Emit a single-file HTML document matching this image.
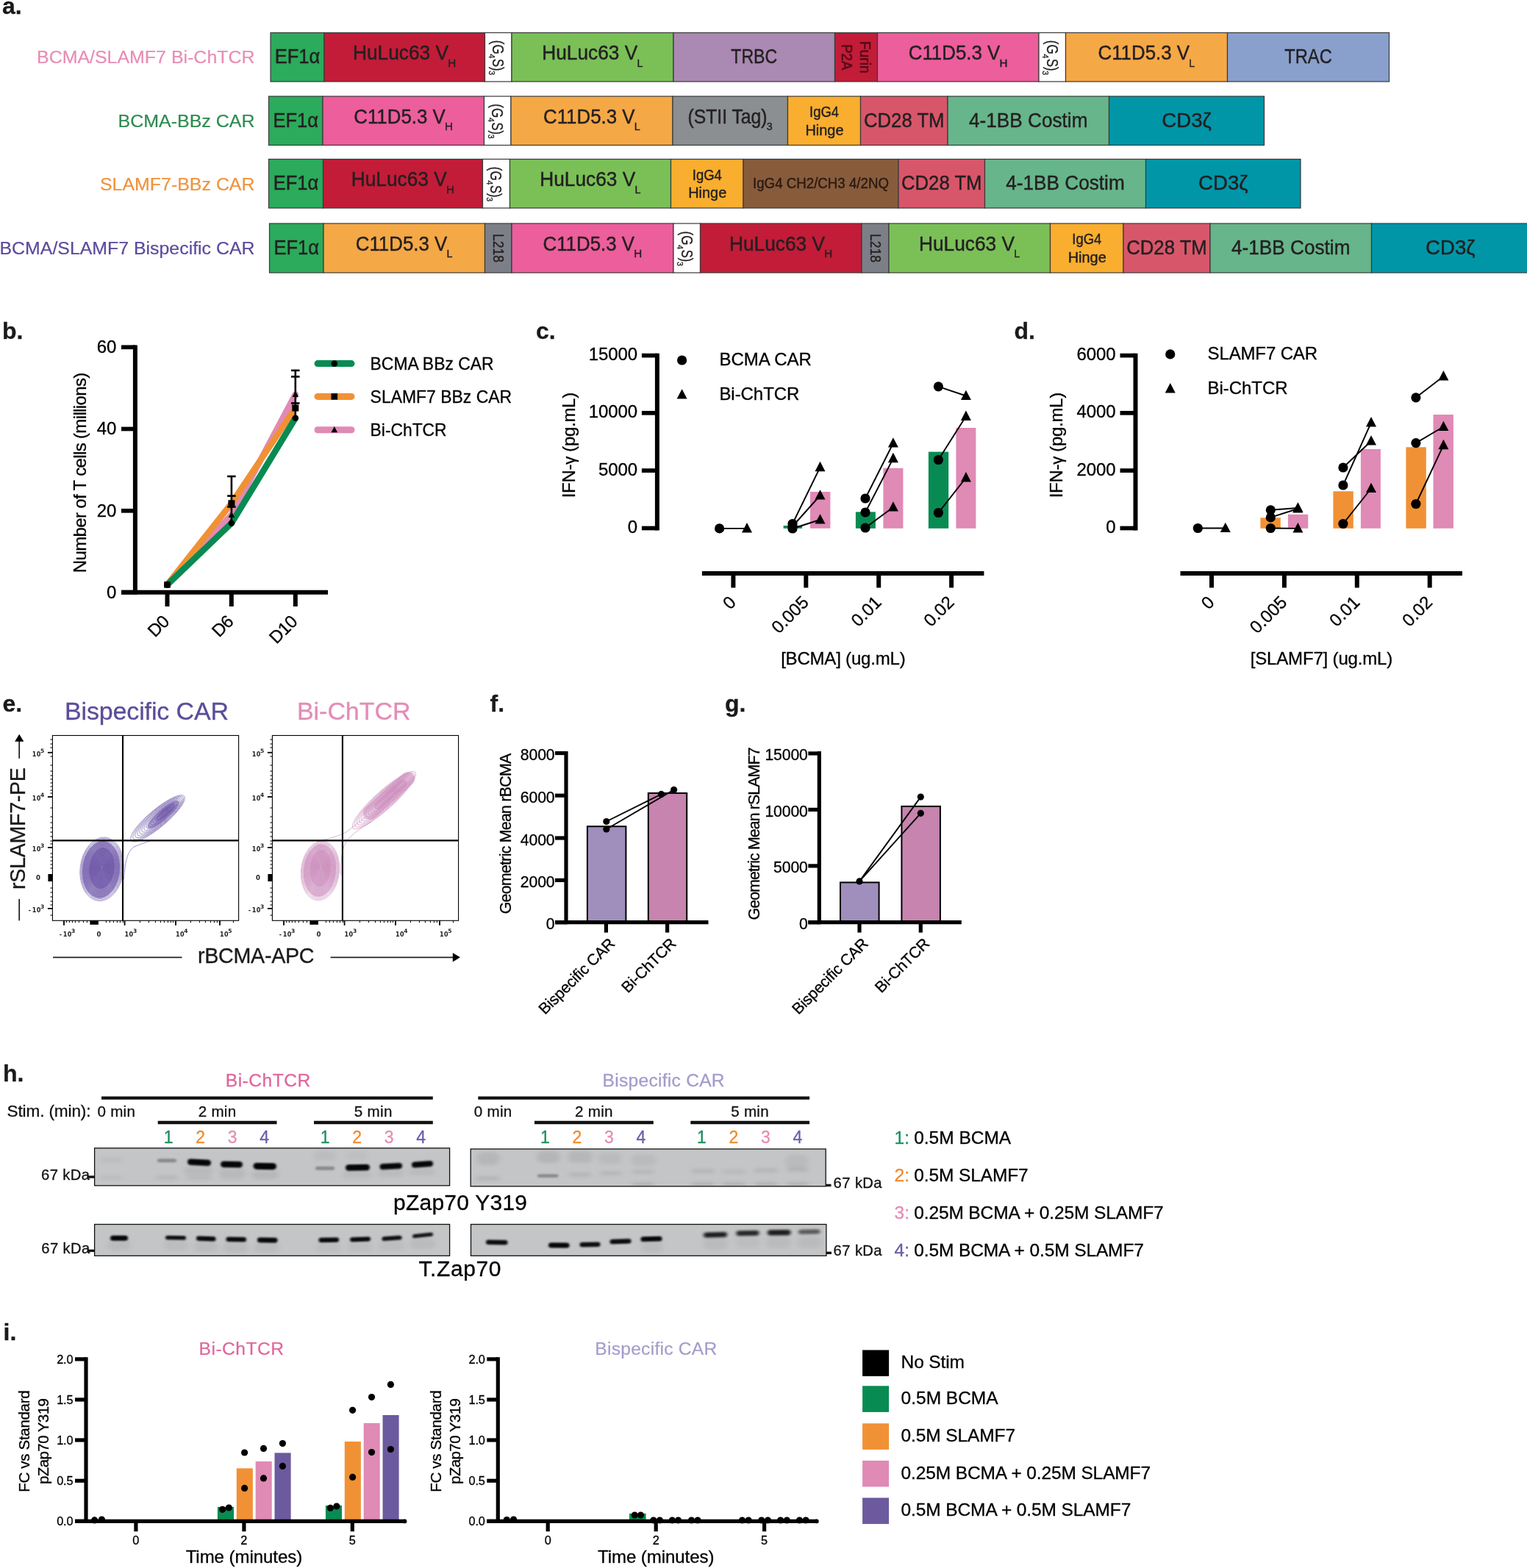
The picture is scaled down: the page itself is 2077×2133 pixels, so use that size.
<!DOCTYPE html>
<html lang="en"><head><meta charset="utf-8"><title>Figure</title>
<style>
html,body{margin:0;padding:0;background:#fff;}
body{width:2077px;height:2133px;overflow:hidden;}
svg{display:block;font-family:"Liberation Sans",Arial,Helvetica,sans-serif;}
.m{font-family:"DejaVu Sans","Liberation Sans",sans-serif;font-weight:bold;letter-spacing:0.4px;}
</style></head><body>
<svg width="2077" height="2133" viewBox="0 0 2077 2133">
<defs>
<filter id="b1" x="-20%" y="-100%" width="140%" height="300%"><feGaussianBlur stdDeviation="1.6 1.2"/></filter>
<filter id="b2" x="-20%" y="-100%" width="140%" height="300%"><feGaussianBlur stdDeviation="3 2.2"/></filter>
<filter id="b4" x="-20%" y="-100%" width="140%" height="300%"><feGaussianBlur stdDeviation="2.2 1.7"/></filter>
<filter id="b3" x="-30%" y="-30%" width="160%" height="160%"><feGaussianBlur stdDeviation="1.2"/></filter>
</defs>
<g id="panel-a">
<text font-size="32" stroke="#1a1a1a" stroke-width="0.3" font-weight="bold" fill="#1a1a1a" x="3" y="19">a.</text>
<rect x="368" y="44.5" width="73" height="66.5" fill="#2BAB5B" stroke="#3a3a3a" stroke-width="1.2"/>
<rect x="441" y="44.5" width="218.5" height="66.5" fill="#C21C38" stroke="#3a3a3a" stroke-width="1.2"/>
<rect x="659.5" y="44.5" width="36.5" height="66.5" fill="#FFFFFF" stroke="#3a3a3a" stroke-width="1.2"/>
<rect x="696" y="44.5" width="220" height="66.5" fill="#7AC057" stroke="#3a3a3a" stroke-width="1.2"/>
<rect x="916" y="44.5" width="219.5" height="66.5" fill="#AA89B2" stroke="#3a3a3a" stroke-width="1.2"/>
<rect x="1135.5" y="44.5" width="58" height="66.5" fill="#C21C38" stroke="#3a3a3a" stroke-width="1.2"/>
<rect x="1193.5" y="44.5" width="219.5" height="66.5" fill="#EC5E9C" stroke="#3a3a3a" stroke-width="1.2"/>
<rect x="1413" y="44.5" width="36.5" height="66.5" fill="#FFFFFF" stroke="#3a3a3a" stroke-width="1.2"/>
<rect x="1449.5" y="44.5" width="220" height="66.5" fill="#F5A846" stroke="#3a3a3a" stroke-width="1.2"/>
<rect x="1669.5" y="44.5" width="220" height="66.5" fill="#89A0CC" stroke="#3a3a3a" stroke-width="1.2"/>
<text font-size="28.3" text-anchor="middle" textLength="61.5" lengthAdjust="spacingAndGlyphs" fill="#231F20" x="404.5" y="86.3" stroke="#231F20" stroke-width="0.45">EF1α</text>
<text font-size="27.1" textLength="130" lengthAdjust="spacingAndGlyphs" fill="#231F20" x="480" y="81.4" stroke="#231F20" stroke-width="0.45">HuLuc63 V</text>
<text font-size="14" stroke="#231F20" stroke-width="0.35" textLength="11" lengthAdjust="spacingAndGlyphs" fill="#231F20" x="609.3" y="90.8">H</text>
<g transform="translate(670.05 77.75) rotate(90)" fill="#231F20" stroke="#231F20" stroke-width="0.35">
<text font-size="21.5" x="-23" y="0" textLength="19" lengthAdjust="spacingAndGlyphs">(G</text>
<text font-size="10.5" x="-4.2" y="5.2">4</text>
<text font-size="21.5" x="2.3" y="0" textLength="16.5" lengthAdjust="spacingAndGlyphs">S)</text>
<text font-size="10.5" x="18.6" y="5.2">3</text>
</g>
<text font-size="27.1" textLength="130" lengthAdjust="spacingAndGlyphs" fill="#231F20" x="737.25" y="81.4" stroke="#231F20" stroke-width="0.45">HuLuc63 V</text>
<text font-size="14" stroke="#231F20" stroke-width="0.35" textLength="8" lengthAdjust="spacingAndGlyphs" fill="#231F20" x="866.55" y="90.8">L</text>
<text font-size="28.3" text-anchor="middle" textLength="63" lengthAdjust="spacingAndGlyphs" fill="#231F20" x="1025.75" y="86.3" stroke="#231F20" stroke-width="0.45">TRBC</text>
<g transform="translate(1164.5 77.75) rotate(90)">
<text font-size="20" stroke="#560A17" stroke-width="0.6" text-anchor="middle" textLength="44" lengthAdjust="spacingAndGlyphs" fill="#560A17" x="0" y="-5.5">Furin</text>
<text font-size="20" stroke="#560A17" stroke-width="0.6" text-anchor="middle" textLength="35" lengthAdjust="spacingAndGlyphs" fill="#560A17" x="0" y="19.5">P2A</text>
</g>
<text font-size="27.1" textLength="124.5" lengthAdjust="spacingAndGlyphs" fill="#231F20" x="1235.75" y="81.4" stroke="#231F20" stroke-width="0.45">C11D5.3 V</text>
<text font-size="14" stroke="#231F20" stroke-width="0.35" textLength="11" lengthAdjust="spacingAndGlyphs" fill="#231F20" x="1359.55" y="90.8">H</text>
<g transform="translate(1423.55 77.75) rotate(90)" fill="#231F20" stroke="#231F20" stroke-width="0.35">
<text font-size="21.5" x="-23" y="0" textLength="19" lengthAdjust="spacingAndGlyphs">(G</text>
<text font-size="10.5" x="-4.2" y="5.2">4</text>
<text font-size="21.5" x="2.3" y="0" textLength="16.5" lengthAdjust="spacingAndGlyphs">S)</text>
<text font-size="10.5" x="18.6" y="5.2">3</text>
</g>
<text font-size="27.1" textLength="124.5" lengthAdjust="spacingAndGlyphs" fill="#231F20" x="1493.5" y="81.4" stroke="#231F20" stroke-width="0.45">C11D5.3 V</text>
<text font-size="14" stroke="#231F20" stroke-width="0.35" textLength="8" lengthAdjust="spacingAndGlyphs" fill="#231F20" x="1617.3" y="90.8">L</text>
<text font-size="28.3" text-anchor="middle" textLength="64.5" lengthAdjust="spacingAndGlyphs" fill="#231F20" x="1779.5" y="86.3" stroke="#231F20" stroke-width="0.45">TRAC</text>
<rect x="365.5" y="131" width="73.5" height="66.5" fill="#2BAB5B" stroke="#3a3a3a" stroke-width="1.2"/>
<rect x="439" y="131" width="219.5" height="66.5" fill="#EC5E9C" stroke="#3a3a3a" stroke-width="1.2"/>
<rect x="658.5" y="131" width="36.5" height="66.5" fill="#FFFFFF" stroke="#3a3a3a" stroke-width="1.2"/>
<rect x="695" y="131" width="220" height="66.5" fill="#F5A846" stroke="#3a3a3a" stroke-width="1.2"/>
<rect x="915" y="131" width="156.5" height="66.5" fill="#8B8F92" stroke="#3a3a3a" stroke-width="1.2"/>
<rect x="1071.5" y="131" width="99" height="66.5" fill="#F9AE2F" stroke="#3a3a3a" stroke-width="1.2"/>
<rect x="1170.5" y="131" width="118.5" height="66.5" fill="#D8566A" stroke="#3a3a3a" stroke-width="1.2"/>
<rect x="1289" y="131" width="219.5" height="66.5" fill="#67B58B" stroke="#3a3a3a" stroke-width="1.2"/>
<rect x="1508.5" y="131" width="211" height="66.5" fill="#0096A8" stroke="#3a3a3a" stroke-width="1.2"/>
<text font-size="28.3" text-anchor="middle" textLength="61.5" lengthAdjust="spacingAndGlyphs" fill="#231F20" x="402.25" y="172.8" stroke="#231F20" stroke-width="0.45">EF1α</text>
<text font-size="27.1" textLength="124.5" lengthAdjust="spacingAndGlyphs" fill="#231F20" x="481.25" y="167.9" stroke="#231F20" stroke-width="0.45">C11D5.3 V</text>
<text font-size="14" stroke="#231F20" stroke-width="0.35" textLength="11" lengthAdjust="spacingAndGlyphs" fill="#231F20" x="605.05" y="177.3">H</text>
<g transform="translate(669.05 164.25) rotate(90)" fill="#231F20" stroke="#231F20" stroke-width="0.35">
<text font-size="21.5" x="-23" y="0" textLength="19" lengthAdjust="spacingAndGlyphs">(G</text>
<text font-size="10.5" x="-4.2" y="5.2">4</text>
<text font-size="21.5" x="2.3" y="0" textLength="16.5" lengthAdjust="spacingAndGlyphs">S)</text>
<text font-size="10.5" x="18.6" y="5.2">3</text>
</g>
<text font-size="27.1" textLength="124.5" lengthAdjust="spacingAndGlyphs" fill="#231F20" x="739" y="167.9" stroke="#231F20" stroke-width="0.45">C11D5.3 V</text>
<text font-size="14" stroke="#231F20" stroke-width="0.35" textLength="8" lengthAdjust="spacingAndGlyphs" fill="#231F20" x="862.8" y="177.3">L</text>
<text font-size="27.1" textLength="108" lengthAdjust="spacingAndGlyphs" fill="#231F20" x="935.5" y="167.9" stroke="#231F20" stroke-width="0.45">(STII Tag)</text>
<text font-size="14" stroke="#231F20" stroke-width="0.35" textLength="8" lengthAdjust="spacingAndGlyphs" fill="#231F20" x="1042.8" y="177.3">3</text>
<text font-size="20.5" text-anchor="middle" textLength="40" lengthAdjust="spacingAndGlyphs" fill="#231F20" x="1121" y="159" stroke="#231F20" stroke-width="0.45">IgG4</text>
<text font-size="20.5" text-anchor="middle" textLength="52" lengthAdjust="spacingAndGlyphs" fill="#231F20" x="1121.5" y="183.5" stroke="#231F20" stroke-width="0.45">Hinge</text>
<text font-size="28.3" text-anchor="middle" textLength="109.5" lengthAdjust="spacingAndGlyphs" fill="#231F20" x="1229.75" y="172.8" stroke="#231F20" stroke-width="0.45">CD28 TM</text>
<text font-size="28.3" text-anchor="middle" textLength="161.5" lengthAdjust="spacingAndGlyphs" fill="#231F20" x="1398.75" y="172.8" stroke="#231F20" stroke-width="0.45">4-1BB Costim</text>
<text font-size="28.3" text-anchor="middle" textLength="67.5" lengthAdjust="spacingAndGlyphs" fill="#231F20" x="1614" y="172.8" stroke="#231F20" stroke-width="0.45">CD3ζ</text>
<rect x="365.5" y="216.5" width="74" height="66.5" fill="#2BAB5B" stroke="#3a3a3a" stroke-width="1.2"/>
<rect x="439.5" y="216.5" width="217" height="66.5" fill="#C21C38" stroke="#3a3a3a" stroke-width="1.2"/>
<rect x="656.5" y="216.5" width="37" height="66.5" fill="#FFFFFF" stroke="#3a3a3a" stroke-width="1.2"/>
<rect x="693.5" y="216.5" width="219" height="66.5" fill="#7AC057" stroke="#3a3a3a" stroke-width="1.2"/>
<rect x="912.5" y="216.5" width="98.5" height="66.5" fill="#F9AE2F" stroke="#3a3a3a" stroke-width="1.2"/>
<rect x="1011" y="216.5" width="211" height="66.5" fill="#875C3C" stroke="#3a3a3a" stroke-width="1.2"/>
<rect x="1222" y="216.5" width="117.5" height="66.5" fill="#D8566A" stroke="#3a3a3a" stroke-width="1.2"/>
<rect x="1339.5" y="216.5" width="219" height="66.5" fill="#67B58B" stroke="#3a3a3a" stroke-width="1.2"/>
<rect x="1558.5" y="216.5" width="210.5" height="66.5" fill="#0096A8" stroke="#3a3a3a" stroke-width="1.2"/>
<text font-size="28.3" text-anchor="middle" textLength="61.5" lengthAdjust="spacingAndGlyphs" fill="#231F20" x="402.5" y="258.3" stroke="#231F20" stroke-width="0.45">EF1α</text>
<text font-size="27.1" textLength="130" lengthAdjust="spacingAndGlyphs" fill="#231F20" x="477.75" y="253.4" stroke="#231F20" stroke-width="0.45">HuLuc63 V</text>
<text font-size="14" stroke="#231F20" stroke-width="0.35" textLength="11" lengthAdjust="spacingAndGlyphs" fill="#231F20" x="607.05" y="262.8">H</text>
<g transform="translate(667.3 249.75) rotate(90)" fill="#231F20" stroke="#231F20" stroke-width="0.35">
<text font-size="21.5" x="-23" y="0" textLength="19" lengthAdjust="spacingAndGlyphs">(G</text>
<text font-size="10.5" x="-4.2" y="5.2">4</text>
<text font-size="21.5" x="2.3" y="0" textLength="16.5" lengthAdjust="spacingAndGlyphs">S)</text>
<text font-size="10.5" x="18.6" y="5.2">3</text>
</g>
<text font-size="27.1" textLength="130" lengthAdjust="spacingAndGlyphs" fill="#231F20" x="734.25" y="253.4" stroke="#231F20" stroke-width="0.45">HuLuc63 V</text>
<text font-size="14" stroke="#231F20" stroke-width="0.35" textLength="8" lengthAdjust="spacingAndGlyphs" fill="#231F20" x="863.55" y="262.8">L</text>
<text font-size="20.5" text-anchor="middle" textLength="40" lengthAdjust="spacingAndGlyphs" fill="#231F20" x="961.75" y="244.5" stroke="#231F20" stroke-width="0.45">IgG4</text>
<text font-size="20.5" text-anchor="middle" textLength="52" lengthAdjust="spacingAndGlyphs" fill="#231F20" x="962.25" y="269" stroke="#231F20" stroke-width="0.45">Hinge</text>
<text font-size="19.5" stroke="#2b1a10" stroke-width="0.4" text-anchor="middle" textLength="185" lengthAdjust="spacingAndGlyphs" fill="#2b1a10" x="1116.5" y="256.25">IgG4 CH2/CH3 4/2NQ</text>
<text font-size="28.3" text-anchor="middle" textLength="109.5" lengthAdjust="spacingAndGlyphs" fill="#231F20" x="1280.75" y="258.3" stroke="#231F20" stroke-width="0.45">CD28 TM</text>
<text font-size="28.3" text-anchor="middle" textLength="161.5" lengthAdjust="spacingAndGlyphs" fill="#231F20" x="1449" y="258.3" stroke="#231F20" stroke-width="0.45">4-1BB Costim</text>
<text font-size="28.3" text-anchor="middle" textLength="67.5" lengthAdjust="spacingAndGlyphs" fill="#231F20" x="1663.75" y="258.3" stroke="#231F20" stroke-width="0.45">CD3ζ</text>
<rect x="366.5" y="304" width="73.5" height="67" fill="#2BAB5B" stroke="#3a3a3a" stroke-width="1.2"/>
<rect x="440" y="304" width="219.5" height="67" fill="#F5A846" stroke="#3a3a3a" stroke-width="1.2"/>
<rect x="659.5" y="304" width="36.5" height="67" fill="#7D7F88" stroke="#3a3a3a" stroke-width="1.2"/>
<rect x="696" y="304" width="220" height="67" fill="#EC5E9C" stroke="#3a3a3a" stroke-width="1.2"/>
<rect x="916" y="304" width="36.5" height="67" fill="#FFFFFF" stroke="#3a3a3a" stroke-width="1.2"/>
<rect x="952.5" y="304" width="219.5" height="67" fill="#C21C38" stroke="#3a3a3a" stroke-width="1.2"/>
<rect x="1172" y="304" width="37" height="67" fill="#7D7F88" stroke="#3a3a3a" stroke-width="1.2"/>
<rect x="1209" y="304" width="219.5" height="67" fill="#7AC057" stroke="#3a3a3a" stroke-width="1.2"/>
<rect x="1428.5" y="304" width="99.5" height="67" fill="#F9AE2F" stroke="#3a3a3a" stroke-width="1.2"/>
<rect x="1528" y="304" width="118" height="67" fill="#D8566A" stroke="#3a3a3a" stroke-width="1.2"/>
<rect x="1646" y="304" width="219.5" height="67" fill="#67B58B" stroke="#3a3a3a" stroke-width="1.2"/>
<rect x="1865.5" y="304" width="214.5" height="67" fill="#0096A8" stroke="#3a3a3a" stroke-width="1.2"/>
<text font-size="28.3" text-anchor="middle" textLength="61.5" lengthAdjust="spacingAndGlyphs" fill="#231F20" x="403.25" y="345.8" stroke="#231F20" stroke-width="0.45">EF1α</text>
<text font-size="27.1" textLength="124.5" lengthAdjust="spacingAndGlyphs" fill="#231F20" x="483.75" y="340.9" stroke="#231F20" stroke-width="0.45">C11D5.3 V</text>
<text font-size="14" stroke="#231F20" stroke-width="0.35" textLength="8" lengthAdjust="spacingAndGlyphs" fill="#231F20" x="607.55" y="350.3">L</text>
<g transform="translate(670.75 337.5) rotate(90)">
<text font-size="20" stroke="#231F20" stroke-width="0.4" text-anchor="middle" textLength="39" lengthAdjust="spacingAndGlyphs" fill="#231F20" x="0" y="0">L218</text>
</g>
<text font-size="27.1" textLength="124.5" lengthAdjust="spacingAndGlyphs" fill="#231F20" x="738.5" y="340.9" stroke="#231F20" stroke-width="0.45">C11D5.3 V</text>
<text font-size="14" stroke="#231F20" stroke-width="0.35" textLength="11" lengthAdjust="spacingAndGlyphs" fill="#231F20" x="862.3" y="350.3">H</text>
<g transform="translate(926.55 337.5) rotate(90)" fill="#231F20" stroke="#231F20" stroke-width="0.35">
<text font-size="21.5" x="-23" y="0" textLength="19" lengthAdjust="spacingAndGlyphs">(G</text>
<text font-size="10.5" x="-4.2" y="5.2">4</text>
<text font-size="21.5" x="2.3" y="0" textLength="16.5" lengthAdjust="spacingAndGlyphs">S)</text>
<text font-size="10.5" x="18.6" y="5.2">3</text>
</g>
<text font-size="27.1" textLength="130" lengthAdjust="spacingAndGlyphs" fill="#231F20" x="992" y="340.9" stroke="#231F20" stroke-width="0.45">HuLuc63 V</text>
<text font-size="14" stroke="#231F20" stroke-width="0.35" textLength="11" lengthAdjust="spacingAndGlyphs" fill="#231F20" x="1121.3" y="350.3">H</text>
<g transform="translate(1183.5 337.5) rotate(90)">
<text font-size="20" stroke="#231F20" stroke-width="0.4" text-anchor="middle" textLength="39" lengthAdjust="spacingAndGlyphs" fill="#231F20" x="0" y="0">L218</text>
</g>
<text font-size="27.1" textLength="130" lengthAdjust="spacingAndGlyphs" fill="#231F20" x="1250" y="340.9" stroke="#231F20" stroke-width="0.45">HuLuc63 V</text>
<text font-size="14" stroke="#231F20" stroke-width="0.35" textLength="8" lengthAdjust="spacingAndGlyphs" fill="#231F20" x="1379.3" y="350.3">L</text>
<text font-size="20.5" text-anchor="middle" textLength="40" lengthAdjust="spacingAndGlyphs" fill="#231F20" x="1478.25" y="332" stroke="#231F20" stroke-width="0.45">IgG4</text>
<text font-size="20.5" text-anchor="middle" textLength="52" lengthAdjust="spacingAndGlyphs" fill="#231F20" x="1478.75" y="356.5" stroke="#231F20" stroke-width="0.45">Hinge</text>
<text font-size="28.3" text-anchor="middle" textLength="109.5" lengthAdjust="spacingAndGlyphs" fill="#231F20" x="1587" y="345.8" stroke="#231F20" stroke-width="0.45">CD28 TM</text>
<text font-size="28.3" text-anchor="middle" textLength="161.5" lengthAdjust="spacingAndGlyphs" fill="#231F20" x="1755.75" y="345.8" stroke="#231F20" stroke-width="0.45">4-1BB Costim</text>
<text font-size="28.3" text-anchor="middle" textLength="67.5" lengthAdjust="spacingAndGlyphs" fill="#231F20" x="1972.75" y="345.8" stroke="#231F20" stroke-width="0.45">CD3ζ</text>
<text font-size="24.4" stroke="#E88DB5" stroke-width="0.2" text-anchor="end" textLength="296.5" lengthAdjust="spacingAndGlyphs" fill="#E88DB5" x="346.5" y="86">BCMA/SLAMF7 Bi-ChTCR</text>
<text font-size="24.4" stroke="#2E8B50" stroke-width="0.2" text-anchor="end" textLength="186" lengthAdjust="spacingAndGlyphs" fill="#2E8B50" x="346.5" y="172.5">BCMA-BBz CAR</text>
<text font-size="24.4" stroke="#F0933B" stroke-width="0.2" text-anchor="end" textLength="210.5" lengthAdjust="spacingAndGlyphs" fill="#F0933B" x="346.5" y="258.5">SLAMF7-BBz CAR</text>
<text font-size="24.4" stroke="#5B4A9C" stroke-width="0.2" text-anchor="end" textLength="347" lengthAdjust="spacingAndGlyphs" fill="#5B4A9C" x="346.5" y="345.5">BCMA/SLAMF7 Bispecific CAR</text>
</g>
<g id="panel-b" class="p">
<text font-size="32" stroke="#1a1a1a" stroke-width="0.3" font-weight="bold" fill="#1a1a1a" x="3" y="460.5">b.</text>
<polyline points="227.5,795.4 314.8,700.5 401.8,536.6" fill="none" stroke="#E08AB6" stroke-width="8.5" stroke-linejoin="round" stroke-linecap="round"/>
<polyline points="227.5,795.4 314.8,684.8 401.8,555" fill="none" stroke="#F19135" stroke-width="8.5" stroke-linejoin="round" stroke-linecap="round"/>
<polyline points="227.5,795.4 314.8,711.8 401.8,568.7" fill="none" stroke="#088B52" stroke-width="8.5" stroke-linejoin="round" stroke-linecap="round"/>
<line x1="183.9" y1="469.5" x2="183.9" y2="808.7" stroke="#000" stroke-width="6"/>
<line x1="165" y1="805.7" x2="446" y2="805.7" stroke="#000" stroke-width="6"/>
<line x1="165" y1="472.3" x2="184" y2="472.3" stroke="#000" stroke-width="5.7"/>
<text font-size="24" stroke="#000" stroke-width="0.3" letter-spacing="-0.1" text-anchor="end" x="158.2" y="480.2">60</text>
<line x1="165" y1="583.5" x2="184" y2="583.5" stroke="#000" stroke-width="5.7"/>
<text font-size="24" stroke="#000" stroke-width="0.3" letter-spacing="-0.1" text-anchor="end" x="158.2" y="591.4">40</text>
<line x1="165" y1="694.8" x2="184" y2="694.8" stroke="#000" stroke-width="5.7"/>
<text font-size="24" stroke="#000" stroke-width="0.3" letter-spacing="-0.1" text-anchor="end" x="158.2" y="702.7">20</text>
<line x1="165" y1="805.7" x2="184" y2="805.7" stroke="#000" stroke-width="5.7"/>
<text font-size="24" stroke="#000" stroke-width="0.3" letter-spacing="-0.1" text-anchor="end" x="158.2" y="813.6">0</text>
<line x1="227.5" y1="805" x2="227.5" y2="825" stroke="#000" stroke-width="6"/>
<text font-size="24" stroke="#000" stroke-width="0.3" letter-spacing="-0.6" text-anchor="end" transform="translate(231.5 847.2) rotate(-45)">D0</text>
<line x1="314.8" y1="805" x2="314.8" y2="825" stroke="#000" stroke-width="6"/>
<text font-size="24" stroke="#000" stroke-width="0.3" letter-spacing="-0.6" text-anchor="end" transform="translate(318.8 847.2) rotate(-45)">D6</text>
<line x1="401.8" y1="805" x2="401.8" y2="825" stroke="#000" stroke-width="6"/>
<text font-size="24" stroke="#000" stroke-width="0.3" letter-spacing="-0.6" text-anchor="end" transform="translate(405.8 847.2) rotate(-45)">D10</text>
<text font-size="24" stroke="#000" stroke-width="0.3" text-anchor="middle" textLength="272.5" lengthAdjust="spacing" transform="translate(117.3 643) rotate(-90)">Number of T cells (millions)</text>
<line x1="314.9" y1="648" x2="314.9" y2="712" stroke="#000" stroke-width="2.6"/>
<line x1="309.15" y1="648" x2="320.65" y2="648" stroke="#000" stroke-width="2.6"/>
<line x1="309.15" y1="674.6" x2="320.65" y2="674.6" stroke="#000" stroke-width="2.6"/>
<line x1="309.15" y1="689.5" x2="320.65" y2="689.5" stroke="#000" stroke-width="2.6"/>
<line x1="401.8" y1="503.9" x2="401.8" y2="568" stroke="#000" stroke-width="2.6"/>
<line x1="396.05" y1="503.9" x2="407.55" y2="503.9" stroke="#000" stroke-width="2.6"/>
<line x1="396.05" y1="512.4" x2="407.55" y2="512.4" stroke="#000" stroke-width="2.6"/>
<line x1="396.05" y1="548.5" x2="407.55" y2="548.5" stroke="#000" stroke-width="2.6"/>
<circle cx="227.5" cy="795.4" r="4.3" fill="#000"/>
<rect x="223.2" y="791.1" width="8.6" height="8.6" fill="#000"/>
<circle cx="314.9" cy="711.8" r="4.3" fill="#000"/>
<circle cx="401.8" cy="568.7" r="4.3" fill="#000"/>
<rect x="310.4" y="680.3" width="9" height="9" fill="#000"/>
<rect x="397.3" y="550.5" width="9" height="9" fill="#000"/>
<path d="M314.9 695.68 L319.2 703.94 L310.6 703.94 Z" fill="#000"/>
<path d="M401.8 531.78 L406.1 540.04 L397.5 540.04 Z" fill="#000"/>
<line x1="432" y1="494.6" x2="478" y2="494.6" stroke="#088B52" stroke-width="9" stroke-linecap="round"/>
<circle cx="454.8" cy="494.6" r="4.3" fill="#000"/>
<text font-size="24" stroke="#000" stroke-width="0.3" textLength="168" lengthAdjust="spacingAndGlyphs" x="503.6" y="503.2">BCMA BBz CAR</text>
<line x1="432" y1="539.4" x2="478" y2="539.4" stroke="#F19135" stroke-width="9" stroke-linecap="round"/>
<rect x="450.5" y="535.1" width="8.6" height="8.6" fill="#000"/>
<text font-size="24" stroke="#000" stroke-width="0.3" textLength="192.5" lengthAdjust="spacingAndGlyphs" x="503.6" y="548">SLAMF7 BBz CAR</text>
<line x1="432" y1="584.8" x2="478" y2="584.8" stroke="#E08AB6" stroke-width="9" stroke-linecap="round"/>
<path d="M454.8 579.98 L459.1 588.24 L450.5 588.24 Z" fill="#000"/>
<text font-size="24" stroke="#000" stroke-width="0.3" textLength="104" lengthAdjust="spacingAndGlyphs" x="503.6" y="593.4">Bi-ChTCR</text>
</g>
<g class="p">
<text font-size="32" stroke="#1a1a1a" stroke-width="0.3" font-weight="bold" fill="#1a1a1a" x="729" y="460.5">c.</text>
<line x1="893.9" y1="480.8" x2="893.9" y2="721.4" stroke="#000" stroke-width="6"/>
<line x1="872.9" y1="483.6" x2="893.9" y2="483.6" stroke="#000" stroke-width="5.7"/>
<text font-size="24" stroke="#000" stroke-width="0.3" letter-spacing="-0.1" text-anchor="end" x="866.9" y="490.2">15000</text>
<line x1="872.9" y1="561.8" x2="893.9" y2="561.8" stroke="#000" stroke-width="5.7"/>
<text font-size="24" stroke="#000" stroke-width="0.3" letter-spacing="-0.1" text-anchor="end" x="866.9" y="568.4">10000</text>
<line x1="872.9" y1="640.1" x2="893.9" y2="640.1" stroke="#000" stroke-width="5.7"/>
<text font-size="24" stroke="#000" stroke-width="0.3" letter-spacing="-0.1" text-anchor="end" x="866.9" y="646.7">5000</text>
<line x1="872.9" y1="718.5" x2="893.9" y2="718.5" stroke="#000" stroke-width="5.7"/>
<text font-size="24" stroke="#000" stroke-width="0.3" letter-spacing="-0.1" text-anchor="end" x="866.9" y="725.1">0</text>
<text font-size="24" stroke="#000" stroke-width="0.3" text-anchor="middle" textLength="143.5" lengthAdjust="spacing" transform="translate(781.9 605.6) rotate(-90)"><tspan>IFN-</tspan><tspan font-size="22">γ</tspan><tspan> (pg.mL)</tspan></text>
<line x1="954.9" y1="780" x2="1338.4" y2="780" stroke="#000" stroke-width="6"/>
<line x1="997.4" y1="779" x2="997.4" y2="799.5" stroke="#000" stroke-width="6"/>
<text font-size="24" stroke="#000" stroke-width="0.3" letter-spacing="-0.1" text-anchor="end" transform="translate(1002.4 821) rotate(-45)">0</text>
<line x1="1096.3" y1="779" x2="1096.3" y2="799.5" stroke="#000" stroke-width="6"/>
<text font-size="24" stroke="#000" stroke-width="0.3" letter-spacing="-0.1" text-anchor="end" transform="translate(1101.3 821) rotate(-45)">0.005</text>
<line x1="1195.2" y1="779" x2="1195.2" y2="799.5" stroke="#000" stroke-width="6"/>
<text font-size="24" stroke="#000" stroke-width="0.3" letter-spacing="-0.1" text-anchor="end" transform="translate(1200.2 821) rotate(-45)">0.01</text>
<line x1="1294.1" y1="779" x2="1294.1" y2="799.5" stroke="#000" stroke-width="6"/>
<text font-size="24" stroke="#000" stroke-width="0.3" letter-spacing="-0.1" text-anchor="end" transform="translate(1299.1 821) rotate(-45)">0.02</text>
<text font-size="24" stroke="#000" stroke-width="0.3" text-anchor="middle" textLength="169.5" lengthAdjust="spacing" x="1146.9" y="904">[BCMA] (ug.mL)</text>
<rect x="1065.6" y="715" width="25.5" height="3.8" fill="#088B52"/>
<rect x="1102" y="669" width="27.4" height="49.8" fill="#E08AB6"/>
<rect x="1163.9" y="696.4" width="27" height="22.4" fill="#088B52"/>
<rect x="1201.4" y="636.8" width="27" height="82" fill="#E08AB6"/>
<rect x="1262.9" y="614.6" width="27.3" height="104.2" fill="#088B52"/>
<rect x="1300.4" y="582" width="27" height="136.8" fill="#E08AB6"/>
<line x1="978.6" y1="718.9" x2="1016" y2="718.9" stroke="#000" stroke-width="1.9"/>
<line x1="1078" y1="712.5" x2="1115.5" y2="635.6" stroke="#000" stroke-width="1.9"/>
<line x1="1078" y1="716" x2="1115.5" y2="674" stroke="#000" stroke-width="1.9"/>
<line x1="1078" y1="719" x2="1115.5" y2="707" stroke="#000" stroke-width="1.9"/>
<line x1="1177" y1="678" x2="1214.9" y2="603" stroke="#000" stroke-width="1.9"/>
<line x1="1177" y1="697" x2="1214.9" y2="623.6" stroke="#000" stroke-width="1.9"/>
<line x1="1177" y1="718" x2="1214.9" y2="690" stroke="#000" stroke-width="1.9"/>
<line x1="1276.4" y1="525.8" x2="1313.9" y2="538.5" stroke="#000" stroke-width="1.9"/>
<line x1="1276.4" y1="625.5" x2="1313.9" y2="566.3" stroke="#000" stroke-width="1.9"/>
<line x1="1276.4" y1="697.5" x2="1313.9" y2="649.9" stroke="#000" stroke-width="1.9"/>
<circle cx="978.6" cy="718.9" r="6.6" fill="#000"/>
<circle cx="1078" cy="712.5" r="6.6" fill="#000"/>
<circle cx="1078" cy="716" r="6.6" fill="#000"/>
<circle cx="1078" cy="719" r="6.6" fill="#000"/>
<circle cx="1177" cy="678" r="6.6" fill="#000"/>
<circle cx="1177" cy="697" r="6.6" fill="#000"/>
<circle cx="1177" cy="718" r="6.6" fill="#000"/>
<circle cx="1276.4" cy="525.8" r="6.6" fill="#000"/>
<circle cx="1276.4" cy="625.5" r="6.6" fill="#000"/>
<circle cx="1276.4" cy="697.5" r="6.6" fill="#000"/>
<path d="M1016 711.06 L1023 724.5 L1009 724.5 Z" fill="#000"/>
<path d="M1115.5 627.76 L1122.5 641.2 L1108.5 641.2 Z" fill="#000"/>
<path d="M1115.5 666.16 L1122.5 679.6 L1108.5 679.6 Z" fill="#000"/>
<path d="M1115.5 699.16 L1122.5 712.6 L1108.5 712.6 Z" fill="#000"/>
<path d="M1214.9 595.16 L1221.9 608.6 L1207.9 608.6 Z" fill="#000"/>
<path d="M1214.9 615.76 L1221.9 629.2 L1207.9 629.2 Z" fill="#000"/>
<path d="M1214.9 682.16 L1221.9 695.6 L1207.9 695.6 Z" fill="#000"/>
<path d="M1313.9 530.66 L1320.9 544.1 L1306.9 544.1 Z" fill="#000"/>
<path d="M1313.9 558.46 L1320.9 571.9 L1306.9 571.9 Z" fill="#000"/>
<path d="M1313.9 642.06 L1320.9 655.5 L1306.9 655.5 Z" fill="#000"/>
<circle cx="927.6" cy="490" r="6.6" fill="#000"/>
<path d="M927.6 529.16 L934.6 542.6 L920.6 542.6 Z" fill="#000"/>
<text font-size="24" stroke="#000" stroke-width="0.3" textLength="125.5" lengthAdjust="spacing" x="978.4" y="496.8">BCMA CAR</text>
<text font-size="24" stroke="#000" stroke-width="0.3" textLength="109" lengthAdjust="spacing" x="978.4" y="543.8">Bi-ChTCR</text>
</g>
<g class="p">
<text font-size="32" stroke="#1a1a1a" stroke-width="0.3" font-weight="bold" fill="#1a1a1a" x="1379.5" y="460.5">d.</text>
<line x1="1544.5" y1="480.8" x2="1544.5" y2="721.4" stroke="#000" stroke-width="6"/>
<line x1="1523.5" y1="483.6" x2="1544.5" y2="483.6" stroke="#000" stroke-width="5.7"/>
<text font-size="24" stroke="#000" stroke-width="0.3" letter-spacing="-0.1" text-anchor="end" x="1517.5" y="490.2">6000</text>
<line x1="1523.5" y1="561.8" x2="1544.5" y2="561.8" stroke="#000" stroke-width="5.7"/>
<text font-size="24" stroke="#000" stroke-width="0.3" letter-spacing="-0.1" text-anchor="end" x="1517.5" y="568.4">4000</text>
<line x1="1523.5" y1="640.1" x2="1544.5" y2="640.1" stroke="#000" stroke-width="5.7"/>
<text font-size="24" stroke="#000" stroke-width="0.3" letter-spacing="-0.1" text-anchor="end" x="1517.5" y="646.7">2000</text>
<line x1="1523.5" y1="718.5" x2="1544.5" y2="718.5" stroke="#000" stroke-width="5.7"/>
<text font-size="24" stroke="#000" stroke-width="0.3" letter-spacing="-0.1" text-anchor="end" x="1517.5" y="725.1">0</text>
<text font-size="24" stroke="#000" stroke-width="0.3" text-anchor="middle" textLength="143.5" lengthAdjust="spacing" transform="translate(1444.9 605.6) rotate(-90)"><tspan>IFN-</tspan><tspan font-size="22">γ</tspan><tspan> (pg.mL)</tspan></text>
<line x1="1605.5" y1="780" x2="1989" y2="780" stroke="#000" stroke-width="6"/>
<line x1="1648" y1="779" x2="1648" y2="799.5" stroke="#000" stroke-width="6"/>
<text font-size="24" stroke="#000" stroke-width="0.3" letter-spacing="-0.1" text-anchor="end" transform="translate(1653 821) rotate(-45)">0</text>
<line x1="1746.9" y1="779" x2="1746.9" y2="799.5" stroke="#000" stroke-width="6"/>
<text font-size="24" stroke="#000" stroke-width="0.3" letter-spacing="-0.1" text-anchor="end" transform="translate(1751.9 821) rotate(-45)">0.005</text>
<line x1="1845.8" y1="779" x2="1845.8" y2="799.5" stroke="#000" stroke-width="6"/>
<text font-size="24" stroke="#000" stroke-width="0.3" letter-spacing="-0.1" text-anchor="end" transform="translate(1850.8 821) rotate(-45)">0.01</text>
<line x1="1944.7" y1="779" x2="1944.7" y2="799.5" stroke="#000" stroke-width="6"/>
<text font-size="24" stroke="#000" stroke-width="0.3" letter-spacing="-0.1" text-anchor="end" transform="translate(1949.7 821) rotate(-45)">0.02</text>
<text font-size="24" stroke="#000" stroke-width="0.3" text-anchor="middle" textLength="193.5" lengthAdjust="spacing" x="1797.5" y="904">[SLAMF7] (ug.mL)</text>
<rect x="1714.4" y="704.3" width="27.4" height="14.5" fill="#F19135"/>
<rect x="1751.9" y="699.8" width="27.4" height="19" fill="#E08AB6"/>
<rect x="1813.4" y="668.3" width="27.4" height="50.5" fill="#F19135"/>
<rect x="1850.9" y="610.9" width="27" height="107.9" fill="#E08AB6"/>
<rect x="1912.4" y="608.3" width="27.4" height="110.5" fill="#F19135"/>
<rect x="1949.5" y="564" width="27.4" height="154.8" fill="#E08AB6"/>
<line x1="1629.3" y1="718.5" x2="1666.8" y2="718.5" stroke="#000" stroke-width="1.9"/>
<line x1="1728.3" y1="693.8" x2="1765.4" y2="691" stroke="#000" stroke-width="1.9"/>
<line x1="1728.3" y1="703.9" x2="1765.4" y2="692" stroke="#000" stroke-width="1.9"/>
<line x1="1728.3" y1="718.5" x2="1765.4" y2="718.9" stroke="#000" stroke-width="1.9"/>
<line x1="1826.9" y1="636" x2="1865" y2="600" stroke="#000" stroke-width="1.9"/>
<line x1="1826.9" y1="660" x2="1865" y2="574.9" stroke="#000" stroke-width="1.9"/>
<line x1="1826.9" y1="712.5" x2="1865" y2="664.5" stroke="#000" stroke-width="1.9"/>
<line x1="1925.9" y1="540.8" x2="1963.4" y2="511.9" stroke="#000" stroke-width="1.9"/>
<line x1="1925.9" y1="602.6" x2="1963.4" y2="580.5" stroke="#000" stroke-width="1.9"/>
<line x1="1925.9" y1="685.5" x2="1963.4" y2="605.6" stroke="#000" stroke-width="1.9"/>
<circle cx="1629.3" cy="718.5" r="6.6" fill="#000"/>
<circle cx="1728.3" cy="693.8" r="6.6" fill="#000"/>
<circle cx="1728.3" cy="703.9" r="6.6" fill="#000"/>
<circle cx="1728.3" cy="718.5" r="6.6" fill="#000"/>
<circle cx="1826.9" cy="636" r="6.6" fill="#000"/>
<circle cx="1826.9" cy="660" r="6.6" fill="#000"/>
<circle cx="1826.9" cy="712.5" r="6.6" fill="#000"/>
<circle cx="1925.9" cy="540.8" r="6.6" fill="#000"/>
<circle cx="1925.9" cy="602.6" r="6.6" fill="#000"/>
<circle cx="1925.9" cy="685.5" r="6.6" fill="#000"/>
<path d="M1666.8 710.66 L1673.8 724.1 L1659.8 724.1 Z" fill="#000"/>
<path d="M1765.4 683.16 L1772.4 696.6 L1758.4 696.6 Z" fill="#000"/>
<path d="M1765.4 684.16 L1772.4 697.6 L1758.4 697.6 Z" fill="#000"/>
<path d="M1765.4 711.06 L1772.4 724.5 L1758.4 724.5 Z" fill="#000"/>
<path d="M1865 567.06 L1872 580.5 L1858 580.5 Z" fill="#000"/>
<path d="M1865 592.16 L1872 605.6 L1858 605.6 Z" fill="#000"/>
<path d="M1865 656.66 L1872 670.1 L1858 670.1 Z" fill="#000"/>
<path d="M1963.4 504.06 L1970.4 517.5 L1956.4 517.5 Z" fill="#000"/>
<path d="M1963.4 572.66 L1970.4 586.1 L1956.4 586.1 Z" fill="#000"/>
<path d="M1963.4 597.76 L1970.4 611.2 L1956.4 611.2 Z" fill="#000"/>
<circle cx="1591.75" cy="481.9" r="6.6" fill="#000"/>
<path d="M1591.75 521.06 L1598.75 534.5 L1584.75 534.5 Z" fill="#000"/>
<text font-size="24" stroke="#000" stroke-width="0.3" textLength="149.5" lengthAdjust="spacing" x="1642.55" y="488.7">SLAMF7 CAR</text>
<text font-size="24" stroke="#000" stroke-width="0.3" textLength="109" lengthAdjust="spacing" x="1642.55" y="535.7">Bi-ChTCR</text>
</g>
<g id="panel-e">
<text font-size="32" stroke="#1a1a1a" stroke-width="0.3" font-weight="bold" fill="#1a1a1a" x="3.5" y="968">e.</text>
<text font-size="34" stroke="#5C4D99" stroke-width="0.3" textLength="223" lengthAdjust="spacing" fill="#5C4D99" x="88" y="978.5">Bispecific CAR</text>
<text font-size="34" stroke="#E38DB6" stroke-width="0.3" textLength="154.5" lengthAdjust="spacing" fill="#E38DB6" x="404" y="978.5">Bi-ChTCR</text>
<path d="M168.5 1196 C170 1170 174 1158 182 1152 C192 1148 198 1146 204 1144" fill="none" stroke="#634AA1" stroke-width="0.6"/>
<ellipse cx="137.5" cy="1183" rx="25.5" ry="39" fill="#5F45A0" fill-opacity="0.55" transform="rotate(6 137.5 1183)"/>
<ellipse cx="138.5" cy="1181" rx="17" ry="28" fill="#5F45A0" fill-opacity="0.45" transform="rotate(6 138.5 1181)"/>
<g fill="none" stroke="#634AA1" stroke-width="0.55" stroke-opacity="0.9"><ellipse cx="138.5" cy="1180" rx="1.5" ry="4" transform="rotate(7 138.5 1180)"/><ellipse cx="138.5" cy="1180.08" rx="2.47" ry="5.36" transform="rotate(7 138.5 1180.08)"/><ellipse cx="138.5" cy="1180.16" rx="3.43" ry="6.72" transform="rotate(7 138.5 1180.16)"/><ellipse cx="138.5" cy="1180.24" rx="4.4" ry="8.09" transform="rotate(7 138.5 1180.24)"/><ellipse cx="138.5" cy="1180.32" rx="5.36" ry="9.45" transform="rotate(7 138.5 1180.32)"/><ellipse cx="138.5" cy="1180.4" rx="6.33" ry="10.81" transform="rotate(7 138.5 1180.4)"/><ellipse cx="138.5" cy="1180.48" rx="7.29" ry="12.17" transform="rotate(7 138.5 1180.48)"/><ellipse cx="138.5" cy="1180.56" rx="8.26" ry="13.53" transform="rotate(7 138.5 1180.56)"/><ellipse cx="138.5" cy="1180.63" rx="9.22" ry="14.9" transform="rotate(7 138.5 1180.63)"/><ellipse cx="138.5" cy="1180.71" rx="10.19" ry="16.26" transform="rotate(7 138.5 1180.71)"/><ellipse cx="138.5" cy="1180.79" rx="11.16" ry="17.62" transform="rotate(7 138.5 1180.79)"/><ellipse cx="138.5" cy="1180.87" rx="12.12" ry="18.98" transform="rotate(7 138.5 1180.87)"/><ellipse cx="138.5" cy="1180.95" rx="13.09" ry="20.34" transform="rotate(7 138.5 1180.95)"/><ellipse cx="138.5" cy="1181.03" rx="14.05" ry="21.71" transform="rotate(7 138.5 1181.03)"/><ellipse cx="138.5" cy="1181.11" rx="15.02" ry="23.07" transform="rotate(7 138.5 1181.11)"/><ellipse cx="138.5" cy="1181.19" rx="15.98" ry="24.43" transform="rotate(7 138.5 1181.19)"/><ellipse cx="138.5" cy="1181.27" rx="16.95" ry="25.79" transform="rotate(7 138.5 1181.27)"/><ellipse cx="138.5" cy="1181.35" rx="17.91" ry="27.16" transform="rotate(7 138.5 1181.35)"/><ellipse cx="138.5" cy="1181.43" rx="18.88" ry="28.52" transform="rotate(7 138.5 1181.43)"/><ellipse cx="138.5" cy="1181.51" rx="19.84" ry="29.88" transform="rotate(7 138.5 1181.51)"/><ellipse cx="138.5" cy="1181.59" rx="20.81" ry="31.24" transform="rotate(7 138.5 1181.59)"/><ellipse cx="138.5" cy="1181.67" rx="21.78" ry="32.6" transform="rotate(7 138.5 1181.67)"/><ellipse cx="138.5" cy="1181.74" rx="22.74" ry="33.97" transform="rotate(7 138.5 1181.74)"/><ellipse cx="138.5" cy="1181.82" rx="23.71" ry="35.33" transform="rotate(7 138.5 1181.82)"/><ellipse cx="138.5" cy="1181.9" rx="24.67" ry="36.69" transform="rotate(7 138.5 1181.9)"/><ellipse cx="138.5" cy="1181.98" rx="25.64" ry="38.05" transform="rotate(7 138.5 1181.98)"/><ellipse cx="138.5" cy="1182.06" rx="26.6" ry="39.41" transform="rotate(7 138.5 1182.06)"/><ellipse cx="138.5" cy="1182.14" rx="27.57" ry="40.78" transform="rotate(7 138.5 1182.14)"/><ellipse cx="138.5" cy="1182.22" rx="28.53" ry="42.14" transform="rotate(7 138.5 1182.22)"/><ellipse cx="138.5" cy="1182.3" rx="29.5" ry="43.5" transform="rotate(7 138.5 1182.3)"/></g>
<ellipse cx="222" cy="1108" rx="28" ry="7" fill="#5F45A0" fill-opacity="0.5" transform="rotate(-41 222 1108)"/>
<ellipse cx="225" cy="1105" rx="17" ry="4.5" fill="#5F45A0" fill-opacity="0.4" transform="rotate(-41 225 1105)"/>
<g fill="none" stroke="#634AA1" stroke-width="0.6" stroke-opacity="0.9"><ellipse cx="224" cy="1106" rx="5" ry="1" transform="rotate(-40 224 1106)"/><ellipse cx="223.32" cy="1106.51" rx="8" ry="1.79" transform="rotate(-40 223.32 1106.51)"/><ellipse cx="222.64" cy="1107.03" rx="11" ry="2.57" transform="rotate(-40 222.64 1107.03)"/><ellipse cx="221.96" cy="1107.54" rx="14" ry="3.36" transform="rotate(-40 221.96 1107.54)"/><ellipse cx="221.29" cy="1108.06" rx="17" ry="4.14" transform="rotate(-40 221.29 1108.06)"/><ellipse cx="220.61" cy="1108.57" rx="20" ry="4.93" transform="rotate(-40 220.61 1108.57)"/><ellipse cx="219.93" cy="1109.09" rx="23" ry="5.71" transform="rotate(-40 219.93 1109.09)"/><ellipse cx="219.25" cy="1109.6" rx="26" ry="6.5" transform="rotate(-40 219.25 1109.6)"/><ellipse cx="218.57" cy="1110.11" rx="29" ry="7.29" transform="rotate(-40 218.57 1110.11)"/><ellipse cx="217.89" cy="1110.63" rx="32" ry="8.07" transform="rotate(-40 217.89 1110.63)"/><ellipse cx="217.21" cy="1111.14" rx="35" ry="8.86" transform="rotate(-40 217.21 1111.14)"/><ellipse cx="216.54" cy="1111.66" rx="38" ry="9.64" transform="rotate(-40 216.54 1111.66)"/><ellipse cx="215.86" cy="1112.17" rx="41" ry="10.43" transform="rotate(-40 215.86 1112.17)"/><ellipse cx="215.18" cy="1112.69" rx="44" ry="11.21" transform="rotate(-40 215.18 1112.69)"/><ellipse cx="214.5" cy="1113.2" rx="47" ry="12" transform="rotate(-40 214.5 1113.2)"/></g>
<rect x="71.4" y="1000.5" width="253.2" height="251.8" fill="none" stroke="#000" stroke-width="1.1"/>
<line x1="167" y1="1000.5" x2="167" y2="1252.3" stroke="#000" stroke-width="2.1"/>
<line x1="71.4" y1="1143.4" x2="324.6" y2="1143.4" stroke="#000" stroke-width="2.1"/>
<line x1="87" y1="1252.3" x2="87" y2="1258.8" stroke="#000" stroke-width="1.8"/>
<line x1="169.6" y1="1252.3" x2="169.6" y2="1258.8" stroke="#000" stroke-width="1.8"/>
<line x1="239" y1="1252.3" x2="239" y2="1258.8" stroke="#000" stroke-width="1.8"/>
<line x1="299" y1="1252.3" x2="299" y2="1258.8" stroke="#000" stroke-width="1.8"/>
<line x1="90.4" y1="1252.3" x2="90.4" y2="1255.3" stroke="#000" stroke-width="1"/>
<line x1="94.4" y1="1252.3" x2="94.4" y2="1255.3" stroke="#000" stroke-width="1"/>
<line x1="98.4" y1="1252.3" x2="98.4" y2="1255.3" stroke="#000" stroke-width="1"/>
<line x1="102.4" y1="1252.3" x2="102.4" y2="1255.3" stroke="#000" stroke-width="1"/>
<line x1="107.4" y1="1252.3" x2="107.4" y2="1255.3" stroke="#000" stroke-width="1"/>
<line x1="113.4" y1="1252.3" x2="113.4" y2="1255.3" stroke="#000" stroke-width="1"/>
<line x1="118.4" y1="1252.3" x2="118.4" y2="1255.3" stroke="#000" stroke-width="1"/>
<line x1="123.4" y1="1252.3" x2="123.4" y2="1255.3" stroke="#000" stroke-width="1"/>
<line x1="144.4" y1="1252.3" x2="144.4" y2="1255.3" stroke="#000" stroke-width="1"/>
<line x1="149.4" y1="1252.3" x2="149.4" y2="1255.3" stroke="#000" stroke-width="1"/>
<line x1="154.4" y1="1252.3" x2="154.4" y2="1255.3" stroke="#000" stroke-width="1"/>
<line x1="159.4" y1="1252.3" x2="159.4" y2="1255.3" stroke="#000" stroke-width="1"/>
<line x1="163.4" y1="1252.3" x2="163.4" y2="1255.3" stroke="#000" stroke-width="1"/>
<line x1="167.4" y1="1252.3" x2="167.4" y2="1255.3" stroke="#000" stroke-width="1"/>
<line x1="190.4" y1="1252.3" x2="190.4" y2="1255.3" stroke="#000" stroke-width="1"/>
<line x1="202.4" y1="1252.3" x2="202.4" y2="1255.3" stroke="#000" stroke-width="1"/>
<line x1="211.4" y1="1252.3" x2="211.4" y2="1255.3" stroke="#000" stroke-width="1"/>
<line x1="218.4" y1="1252.3" x2="218.4" y2="1255.3" stroke="#000" stroke-width="1"/>
<line x1="223.4" y1="1252.3" x2="223.4" y2="1255.3" stroke="#000" stroke-width="1"/>
<line x1="228.4" y1="1252.3" x2="228.4" y2="1255.3" stroke="#000" stroke-width="1"/>
<line x1="232.4" y1="1252.3" x2="232.4" y2="1255.3" stroke="#000" stroke-width="1"/>
<line x1="235.4" y1="1252.3" x2="235.4" y2="1255.3" stroke="#000" stroke-width="1"/>
<line x1="259.4" y1="1252.3" x2="259.4" y2="1255.3" stroke="#000" stroke-width="1"/>
<line x1="271.4" y1="1252.3" x2="271.4" y2="1255.3" stroke="#000" stroke-width="1"/>
<line x1="279.4" y1="1252.3" x2="279.4" y2="1255.3" stroke="#000" stroke-width="1"/>
<line x1="286.4" y1="1252.3" x2="286.4" y2="1255.3" stroke="#000" stroke-width="1"/>
<line x1="291.4" y1="1252.3" x2="291.4" y2="1255.3" stroke="#000" stroke-width="1"/>
<line x1="295.4" y1="1252.3" x2="295.4" y2="1255.3" stroke="#000" stroke-width="1"/>
<line x1="317.4" y1="1252.3" x2="317.4" y2="1255.3" stroke="#000" stroke-width="1"/>
<rect x="122.4" y="1252.3" width="11.5" height="5.5" fill="#000"/>
<line x1="64.9" y1="1023.75" x2="71.4" y2="1023.75" stroke="#000" stroke-width="1.8"/>
<line x1="64.9" y1="1084" x2="71.4" y2="1084" stroke="#000" stroke-width="1.8"/>
<line x1="64.9" y1="1152.9" x2="71.4" y2="1152.9" stroke="#000" stroke-width="1.8"/>
<line x1="64.9" y1="1235.9" x2="71.4" y2="1235.9" stroke="#000" stroke-width="1.8"/>
<line x1="68.4" y1="1006" x2="71.4" y2="1006" stroke="#000" stroke-width="1"/>
<line x1="68.4" y1="1012" x2="71.4" y2="1012" stroke="#000" stroke-width="1"/>
<line x1="68.4" y1="1017" x2="71.4" y2="1017" stroke="#000" stroke-width="1"/>
<line x1="68.4" y1="1029" x2="71.4" y2="1029" stroke="#000" stroke-width="1"/>
<line x1="68.4" y1="1041" x2="71.4" y2="1041" stroke="#000" stroke-width="1"/>
<line x1="68.4" y1="1049" x2="71.4" y2="1049" stroke="#000" stroke-width="1"/>
<line x1="68.4" y1="1055" x2="71.4" y2="1055" stroke="#000" stroke-width="1"/>
<line x1="68.4" y1="1060" x2="71.4" y2="1060" stroke="#000" stroke-width="1"/>
<line x1="68.4" y1="1065" x2="71.4" y2="1065" stroke="#000" stroke-width="1"/>
<line x1="68.4" y1="1070" x2="71.4" y2="1070" stroke="#000" stroke-width="1"/>
<line x1="68.4" y1="1075" x2="71.4" y2="1075" stroke="#000" stroke-width="1"/>
<line x1="68.4" y1="1079" x2="71.4" y2="1079" stroke="#000" stroke-width="1"/>
<line x1="68.4" y1="1099" x2="71.4" y2="1099" stroke="#000" stroke-width="1"/>
<line x1="68.4" y1="1111" x2="71.4" y2="1111" stroke="#000" stroke-width="1"/>
<line x1="68.4" y1="1119" x2="71.4" y2="1119" stroke="#000" stroke-width="1"/>
<line x1="68.4" y1="1126" x2="71.4" y2="1126" stroke="#000" stroke-width="1"/>
<line x1="68.4" y1="1132" x2="71.4" y2="1132" stroke="#000" stroke-width="1"/>
<line x1="68.4" y1="1138" x2="71.4" y2="1138" stroke="#000" stroke-width="1"/>
<line x1="68.4" y1="1144" x2="71.4" y2="1144" stroke="#000" stroke-width="1"/>
<line x1="68.4" y1="1148" x2="71.4" y2="1148" stroke="#000" stroke-width="1"/>
<line x1="68.4" y1="1161" x2="71.4" y2="1161" stroke="#000" stroke-width="1"/>
<line x1="68.4" y1="1166" x2="71.4" y2="1166" stroke="#000" stroke-width="1"/>
<line x1="68.4" y1="1171" x2="71.4" y2="1171" stroke="#000" stroke-width="1"/>
<line x1="68.4" y1="1176" x2="71.4" y2="1176" stroke="#000" stroke-width="1"/>
<line x1="68.4" y1="1181" x2="71.4" y2="1181" stroke="#000" stroke-width="1"/>
<line x1="68.4" y1="1208" x2="71.4" y2="1208" stroke="#000" stroke-width="1"/>
<line x1="68.4" y1="1214" x2="71.4" y2="1214" stroke="#000" stroke-width="1"/>
<line x1="68.4" y1="1220" x2="71.4" y2="1220" stroke="#000" stroke-width="1"/>
<line x1="68.4" y1="1226" x2="71.4" y2="1226" stroke="#000" stroke-width="1"/>
<line x1="68.4" y1="1231" x2="71.4" y2="1231" stroke="#000" stroke-width="1"/>
<line x1="68.4" y1="1245" x2="71.4" y2="1245" stroke="#000" stroke-width="1"/>
<rect x="65.4" y="1189" width="6" height="10" fill="#000"/>
<text font-size="8" fill="#222" class="m" x="80.7" y="1273.7">-</text>
<text font-size="8" fill="#222" class="m" x="85.7" y="1273.7">10</text>
<text font-size="7.5" fill="#222" class="m" x="97" y="1269.4">3</text>
<text font-size="8.5" fill="#222" class="m" x="131.4" y="1273.7">0</text>
<text font-size="8" fill="#222" class="m" x="169.6" y="1273.7">10</text>
<text font-size="7.5" fill="#222" class="m" x="180.9" y="1269.4">3</text>
<text font-size="8" fill="#222" class="m" x="239" y="1273.7">10</text>
<text font-size="7.5" fill="#222" class="m" x="250.3" y="1269.4">4</text>
<text font-size="8" fill="#222" class="m" x="299" y="1273.7">10</text>
<text font-size="7.5" fill="#222" class="m" x="310.3" y="1269.4">5</text>
<text font-size="8" fill="#222" class="m" x="43.8" y="1028.6">10</text>
<text font-size="7.5" fill="#222" class="m" x="55.1" y="1024.3">5</text>
<text font-size="8" fill="#222" class="m" x="43.8" y="1088.6">10</text>
<text font-size="7.5" fill="#222" class="m" x="55.1" y="1084.3">4</text>
<text font-size="8" fill="#222" class="m" x="43.8" y="1157.5">10</text>
<text font-size="7.5" fill="#222" class="m" x="55.1" y="1153.2">3</text>
<text font-size="8" fill="#222" class="m" x="38.8" y="1240.5">-</text>
<text font-size="8" fill="#222" class="m" x="43.8" y="1240.5">10</text>
<text font-size="7.5" fill="#222" class="m" x="55.1" y="1236.2">3</text>
<text font-size="8.5" fill="#222" class="m" x="48.9" y="1196.5">0</text>
<path d="M431 1145 C449 1140 459 1138 471 1132 C481 1124 489 1118 499 1110" fill="none" stroke="#C47DB3" stroke-width="0.6"/>
<path d="M463.5 1190 C464 1160 466 1150 475 1140 C485 1130 495 1124 505 1118" fill="none" stroke="#C47DB3" stroke-width="0.6"/>
<ellipse cx="435" cy="1184" rx="22" ry="36" fill="#CB8ABB" fill-opacity="0.5" transform="rotate(5 435 1184)"/>
<ellipse cx="436" cy="1181" rx="14" ry="25" fill="#CB8ABB" fill-opacity="0.4" transform="rotate(5 436 1181)"/>
<g fill="none" stroke="#C47DB3" stroke-width="0.55" stroke-opacity="0.9"><ellipse cx="436.5" cy="1179" rx="1.2" ry="3" transform="rotate(6 436.5 1179)"/><ellipse cx="436.46" cy="1179.2" rx="2.12" ry="4.39" transform="rotate(6 436.46 1179.2)"/><ellipse cx="436.43" cy="1179.41" rx="3.04" ry="5.78" transform="rotate(6 436.43 1179.41)"/><ellipse cx="436.39" cy="1179.61" rx="3.96" ry="7.17" transform="rotate(6 436.39 1179.61)"/><ellipse cx="436.35" cy="1179.81" rx="4.87" ry="8.56" transform="rotate(6 436.35 1179.81)"/><ellipse cx="436.31" cy="1180.02" rx="5.79" ry="9.94" transform="rotate(6 436.31 1180.02)"/><ellipse cx="436.28" cy="1180.22" rx="6.71" ry="11.33" transform="rotate(6 436.28 1180.22)"/><ellipse cx="436.24" cy="1180.43" rx="7.63" ry="12.72" transform="rotate(6 436.24 1180.43)"/><ellipse cx="436.2" cy="1180.63" rx="8.55" ry="14.11" transform="rotate(6 436.2 1180.63)"/><ellipse cx="436.17" cy="1180.83" rx="9.47" ry="15.5" transform="rotate(6 436.17 1180.83)"/><ellipse cx="436.13" cy="1181.04" rx="10.39" ry="16.89" transform="rotate(6 436.13 1181.04)"/><ellipse cx="436.09" cy="1181.24" rx="11.3" ry="18.28" transform="rotate(6 436.09 1181.24)"/><ellipse cx="436.06" cy="1181.44" rx="12.22" ry="19.67" transform="rotate(6 436.06 1181.44)"/><ellipse cx="436.02" cy="1181.65" rx="13.14" ry="21.06" transform="rotate(6 436.02 1181.65)"/><ellipse cx="435.98" cy="1181.85" rx="14.06" ry="22.44" transform="rotate(6 435.98 1181.85)"/><ellipse cx="435.94" cy="1182.06" rx="14.98" ry="23.83" transform="rotate(6 435.94 1182.06)"/><ellipse cx="435.91" cy="1182.26" rx="15.9" ry="25.22" transform="rotate(6 435.91 1182.26)"/><ellipse cx="435.87" cy="1182.46" rx="16.81" ry="26.61" transform="rotate(6 435.87 1182.46)"/><ellipse cx="435.83" cy="1182.67" rx="17.73" ry="28" transform="rotate(6 435.83 1182.67)"/><ellipse cx="435.8" cy="1182.87" rx="18.65" ry="29.39" transform="rotate(6 435.8 1182.87)"/><ellipse cx="435.76" cy="1183.07" rx="19.57" ry="30.78" transform="rotate(6 435.76 1183.07)"/><ellipse cx="435.72" cy="1183.28" rx="20.49" ry="32.17" transform="rotate(6 435.72 1183.28)"/><ellipse cx="435.69" cy="1183.48" rx="21.41" ry="33.56" transform="rotate(6 435.69 1183.48)"/><ellipse cx="435.65" cy="1183.69" rx="22.33" ry="34.94" transform="rotate(6 435.65 1183.69)"/><ellipse cx="435.61" cy="1183.89" rx="23.24" ry="36.33" transform="rotate(6 435.61 1183.89)"/><ellipse cx="435.57" cy="1184.09" rx="24.16" ry="37.72" transform="rotate(6 435.57 1184.09)"/><ellipse cx="435.54" cy="1184.3" rx="25.08" ry="39.11" transform="rotate(6 435.54 1184.3)"/><ellipse cx="435.5" cy="1184.5" rx="26" ry="40.5" transform="rotate(6 435.5 1184.5)"/></g>
<rect x="485" y="1073" width="88" height="19" rx="9.5" fill="#CB8ABB" fill-opacity="0.5" transform="rotate(-42 529 1082.5)"/>
<rect x="503.2" y="1075.2" width="56" height="11" rx="5.5" fill="#CB8ABB" fill-opacity="0.4" transform="rotate(-42 531.2 1080.7)"/>
<g fill="none" stroke="#C47DB3" stroke-width="0.6" stroke-opacity="0.9"><ellipse cx="531.2" cy="1080.7" rx="8" ry="1" transform="rotate(-42 531.2 1080.7)"/><ellipse cx="530.62" cy="1081.22" rx="11.27" ry="1.77" transform="rotate(-42 530.62 1081.22)"/><ellipse cx="530.04" cy="1081.74" rx="14.53" ry="2.53" transform="rotate(-42 530.04 1081.74)"/><ellipse cx="529.46" cy="1082.26" rx="17.8" ry="3.3" transform="rotate(-42 529.46 1082.26)"/><ellipse cx="528.88" cy="1082.78" rx="21.07" ry="4.07" transform="rotate(-42 528.88 1082.78)"/><ellipse cx="528.3" cy="1083.3" rx="24.33" ry="4.83" transform="rotate(-42 528.3 1083.3)"/><ellipse cx="527.72" cy="1083.82" rx="27.6" ry="5.6" transform="rotate(-42 527.72 1083.82)"/><ellipse cx="527.14" cy="1084.34" rx="30.87" ry="6.37" transform="rotate(-42 527.14 1084.34)"/><ellipse cx="526.56" cy="1084.86" rx="34.13" ry="7.13" transform="rotate(-42 526.56 1084.86)"/><ellipse cx="525.98" cy="1085.38" rx="37.4" ry="7.9" transform="rotate(-42 525.98 1085.38)"/><ellipse cx="525.4" cy="1085.9" rx="40.67" ry="8.67" transform="rotate(-42 525.4 1085.9)"/><ellipse cx="524.82" cy="1086.42" rx="43.93" ry="9.43" transform="rotate(-42 524.82 1086.42)"/><ellipse cx="524.24" cy="1086.94" rx="47.2" ry="10.2" transform="rotate(-42 524.24 1086.94)"/><ellipse cx="523.66" cy="1087.46" rx="50.47" ry="10.97" transform="rotate(-42 523.66 1087.46)"/><ellipse cx="523.08" cy="1087.98" rx="53.73" ry="11.73" transform="rotate(-42 523.08 1087.98)"/><ellipse cx="522.5" cy="1088.5" rx="57" ry="12.5" transform="rotate(-42 522.5 1088.5)"/></g>
<rect x="370.4" y="1000.5" width="253.2" height="251.8" fill="none" stroke="#000" stroke-width="1.1"/>
<line x1="465.9" y1="1000.5" x2="465.9" y2="1252.3" stroke="#000" stroke-width="2.1"/>
<line x1="370.4" y1="1143.4" x2="623.6" y2="1143.4" stroke="#000" stroke-width="2.1"/>
<line x1="386" y1="1252.3" x2="386" y2="1258.8" stroke="#000" stroke-width="1.8"/>
<line x1="468.6" y1="1252.3" x2="468.6" y2="1258.8" stroke="#000" stroke-width="1.8"/>
<line x1="538" y1="1252.3" x2="538" y2="1258.8" stroke="#000" stroke-width="1.8"/>
<line x1="598" y1="1252.3" x2="598" y2="1258.8" stroke="#000" stroke-width="1.8"/>
<line x1="389.4" y1="1252.3" x2="389.4" y2="1255.3" stroke="#000" stroke-width="1"/>
<line x1="393.4" y1="1252.3" x2="393.4" y2="1255.3" stroke="#000" stroke-width="1"/>
<line x1="397.4" y1="1252.3" x2="397.4" y2="1255.3" stroke="#000" stroke-width="1"/>
<line x1="401.4" y1="1252.3" x2="401.4" y2="1255.3" stroke="#000" stroke-width="1"/>
<line x1="406.4" y1="1252.3" x2="406.4" y2="1255.3" stroke="#000" stroke-width="1"/>
<line x1="412.4" y1="1252.3" x2="412.4" y2="1255.3" stroke="#000" stroke-width="1"/>
<line x1="417.4" y1="1252.3" x2="417.4" y2="1255.3" stroke="#000" stroke-width="1"/>
<line x1="422.4" y1="1252.3" x2="422.4" y2="1255.3" stroke="#000" stroke-width="1"/>
<line x1="443.4" y1="1252.3" x2="443.4" y2="1255.3" stroke="#000" stroke-width="1"/>
<line x1="448.4" y1="1252.3" x2="448.4" y2="1255.3" stroke="#000" stroke-width="1"/>
<line x1="453.4" y1="1252.3" x2="453.4" y2="1255.3" stroke="#000" stroke-width="1"/>
<line x1="458.4" y1="1252.3" x2="458.4" y2="1255.3" stroke="#000" stroke-width="1"/>
<line x1="462.4" y1="1252.3" x2="462.4" y2="1255.3" stroke="#000" stroke-width="1"/>
<line x1="466.4" y1="1252.3" x2="466.4" y2="1255.3" stroke="#000" stroke-width="1"/>
<line x1="489.4" y1="1252.3" x2="489.4" y2="1255.3" stroke="#000" stroke-width="1"/>
<line x1="501.4" y1="1252.3" x2="501.4" y2="1255.3" stroke="#000" stroke-width="1"/>
<line x1="510.4" y1="1252.3" x2="510.4" y2="1255.3" stroke="#000" stroke-width="1"/>
<line x1="517.4" y1="1252.3" x2="517.4" y2="1255.3" stroke="#000" stroke-width="1"/>
<line x1="522.4" y1="1252.3" x2="522.4" y2="1255.3" stroke="#000" stroke-width="1"/>
<line x1="527.4" y1="1252.3" x2="527.4" y2="1255.3" stroke="#000" stroke-width="1"/>
<line x1="531.4" y1="1252.3" x2="531.4" y2="1255.3" stroke="#000" stroke-width="1"/>
<line x1="534.4" y1="1252.3" x2="534.4" y2="1255.3" stroke="#000" stroke-width="1"/>
<line x1="558.4" y1="1252.3" x2="558.4" y2="1255.3" stroke="#000" stroke-width="1"/>
<line x1="570.4" y1="1252.3" x2="570.4" y2="1255.3" stroke="#000" stroke-width="1"/>
<line x1="578.4" y1="1252.3" x2="578.4" y2="1255.3" stroke="#000" stroke-width="1"/>
<line x1="585.4" y1="1252.3" x2="585.4" y2="1255.3" stroke="#000" stroke-width="1"/>
<line x1="590.4" y1="1252.3" x2="590.4" y2="1255.3" stroke="#000" stroke-width="1"/>
<line x1="594.4" y1="1252.3" x2="594.4" y2="1255.3" stroke="#000" stroke-width="1"/>
<line x1="616.4" y1="1252.3" x2="616.4" y2="1255.3" stroke="#000" stroke-width="1"/>
<rect x="421.4" y="1252.3" width="11.5" height="5.5" fill="#000"/>
<line x1="363.9" y1="1023.75" x2="370.4" y2="1023.75" stroke="#000" stroke-width="1.8"/>
<line x1="363.9" y1="1084" x2="370.4" y2="1084" stroke="#000" stroke-width="1.8"/>
<line x1="363.9" y1="1152.9" x2="370.4" y2="1152.9" stroke="#000" stroke-width="1.8"/>
<line x1="363.9" y1="1235.9" x2="370.4" y2="1235.9" stroke="#000" stroke-width="1.8"/>
<line x1="367.4" y1="1006" x2="370.4" y2="1006" stroke="#000" stroke-width="1"/>
<line x1="367.4" y1="1012" x2="370.4" y2="1012" stroke="#000" stroke-width="1"/>
<line x1="367.4" y1="1017" x2="370.4" y2="1017" stroke="#000" stroke-width="1"/>
<line x1="367.4" y1="1029" x2="370.4" y2="1029" stroke="#000" stroke-width="1"/>
<line x1="367.4" y1="1041" x2="370.4" y2="1041" stroke="#000" stroke-width="1"/>
<line x1="367.4" y1="1049" x2="370.4" y2="1049" stroke="#000" stroke-width="1"/>
<line x1="367.4" y1="1055" x2="370.4" y2="1055" stroke="#000" stroke-width="1"/>
<line x1="367.4" y1="1060" x2="370.4" y2="1060" stroke="#000" stroke-width="1"/>
<line x1="367.4" y1="1065" x2="370.4" y2="1065" stroke="#000" stroke-width="1"/>
<line x1="367.4" y1="1070" x2="370.4" y2="1070" stroke="#000" stroke-width="1"/>
<line x1="367.4" y1="1075" x2="370.4" y2="1075" stroke="#000" stroke-width="1"/>
<line x1="367.4" y1="1079" x2="370.4" y2="1079" stroke="#000" stroke-width="1"/>
<line x1="367.4" y1="1099" x2="370.4" y2="1099" stroke="#000" stroke-width="1"/>
<line x1="367.4" y1="1111" x2="370.4" y2="1111" stroke="#000" stroke-width="1"/>
<line x1="367.4" y1="1119" x2="370.4" y2="1119" stroke="#000" stroke-width="1"/>
<line x1="367.4" y1="1126" x2="370.4" y2="1126" stroke="#000" stroke-width="1"/>
<line x1="367.4" y1="1132" x2="370.4" y2="1132" stroke="#000" stroke-width="1"/>
<line x1="367.4" y1="1138" x2="370.4" y2="1138" stroke="#000" stroke-width="1"/>
<line x1="367.4" y1="1144" x2="370.4" y2="1144" stroke="#000" stroke-width="1"/>
<line x1="367.4" y1="1148" x2="370.4" y2="1148" stroke="#000" stroke-width="1"/>
<line x1="367.4" y1="1161" x2="370.4" y2="1161" stroke="#000" stroke-width="1"/>
<line x1="367.4" y1="1166" x2="370.4" y2="1166" stroke="#000" stroke-width="1"/>
<line x1="367.4" y1="1171" x2="370.4" y2="1171" stroke="#000" stroke-width="1"/>
<line x1="367.4" y1="1176" x2="370.4" y2="1176" stroke="#000" stroke-width="1"/>
<line x1="367.4" y1="1181" x2="370.4" y2="1181" stroke="#000" stroke-width="1"/>
<line x1="367.4" y1="1208" x2="370.4" y2="1208" stroke="#000" stroke-width="1"/>
<line x1="367.4" y1="1214" x2="370.4" y2="1214" stroke="#000" stroke-width="1"/>
<line x1="367.4" y1="1220" x2="370.4" y2="1220" stroke="#000" stroke-width="1"/>
<line x1="367.4" y1="1226" x2="370.4" y2="1226" stroke="#000" stroke-width="1"/>
<line x1="367.4" y1="1231" x2="370.4" y2="1231" stroke="#000" stroke-width="1"/>
<line x1="367.4" y1="1245" x2="370.4" y2="1245" stroke="#000" stroke-width="1"/>
<rect x="364.4" y="1189" width="6" height="10" fill="#000"/>
<text font-size="8" fill="#222" class="m" x="379.7" y="1273.7">-</text>
<text font-size="8" fill="#222" class="m" x="384.7" y="1273.7">10</text>
<text font-size="7.5" fill="#222" class="m" x="396" y="1269.4">3</text>
<text font-size="8.5" fill="#222" class="m" x="430.4" y="1273.7">0</text>
<text font-size="8" fill="#222" class="m" x="468.6" y="1273.7">10</text>
<text font-size="7.5" fill="#222" class="m" x="479.9" y="1269.4">3</text>
<text font-size="8" fill="#222" class="m" x="538" y="1273.7">10</text>
<text font-size="7.5" fill="#222" class="m" x="549.3" y="1269.4">4</text>
<text font-size="8" fill="#222" class="m" x="598" y="1273.7">10</text>
<text font-size="7.5" fill="#222" class="m" x="609.3" y="1269.4">5</text>
<text font-size="8" fill="#222" class="m" x="342.8" y="1028.6">10</text>
<text font-size="7.5" fill="#222" class="m" x="354.1" y="1024.3">5</text>
<text font-size="8" fill="#222" class="m" x="342.8" y="1088.6">10</text>
<text font-size="7.5" fill="#222" class="m" x="354.1" y="1084.3">4</text>
<text font-size="8" fill="#222" class="m" x="342.8" y="1157.5">10</text>
<text font-size="7.5" fill="#222" class="m" x="354.1" y="1153.2">3</text>
<text font-size="8" fill="#222" class="m" x="337.8" y="1240.5">-</text>
<text font-size="8" fill="#222" class="m" x="342.8" y="1240.5">10</text>
<text font-size="7.5" fill="#222" class="m" x="354.1" y="1236.2">3</text>
<text font-size="8.5" fill="#222" class="m" x="347.9" y="1196.5">0</text>
<text font-size="28.7" stroke="#1a1a1a" stroke-width="0.3" text-anchor="middle" textLength="166" lengthAdjust="spacing" fill="#1a1a1a" transform="translate(33.9 1127) rotate(-90)">rSLAMF7-PE</text>
<line x1="26.2" y1="1008" x2="26.2" y2="1031.8" stroke="#222" stroke-width="1.8"/>
<path d="M26.2 998.7 L32.3 1008.8 L20.1 1008.8 Z" fill="#000"/>
<line x1="26.2" y1="1222.9" x2="26.2" y2="1252.3" stroke="#222" stroke-width="1.8"/>
<text font-size="28.7" stroke="#1a1a1a" stroke-width="0.3" text-anchor="middle" textLength="158.5" lengthAdjust="spacing" fill="#1a1a1a" x="348.3" y="1310.3">rBCMA-APC</text>
<line x1="72" y1="1302.3" x2="247.5" y2="1302.3" stroke="#222" stroke-width="1.8"/>
<line x1="449.6" y1="1302.3" x2="616" y2="1302.3" stroke="#222" stroke-width="1.8"/>
<path d="M626 1302.3 L615.8 1308.4 L615.8 1296.2 Z" fill="#000"/>
</g>
<g class="p">
<text font-size="32" stroke="#1a1a1a" stroke-width="0.3" font-weight="bold" fill="#1a1a1a" x="666.5" y="967.5">f.</text>
<rect x="798.9" y="1124.2" width="52.5" height="130.5" fill="#A08EBD" stroke="#000" stroke-width="2"/>
<rect x="881.8" y="1078.9" width="52.4" height="175.8" fill="#C684AE" stroke="#000" stroke-width="2"/>
<line x1="770" y1="1021.9" x2="770" y2="1257.3" stroke="#000" stroke-width="5.2"/>
<line x1="755" y1="1254.7" x2="963.5" y2="1254.7" stroke="#000" stroke-width="5.2"/>
<line x1="755" y1="1024.5" x2="770" y2="1024.5" stroke="#000" stroke-width="5.2"/>
<text font-size="21.2" stroke="#000" stroke-width="0.3" letter-spacing="-0.1" text-anchor="end" x="754.5" y="1034">8000</text>
<line x1="755" y1="1082.2" x2="770" y2="1082.2" stroke="#000" stroke-width="5.2"/>
<text font-size="21.2" stroke="#000" stroke-width="0.3" letter-spacing="-0.1" text-anchor="end" x="754.5" y="1091.7">6000</text>
<line x1="755" y1="1140" x2="770" y2="1140" stroke="#000" stroke-width="5.2"/>
<text font-size="21.2" stroke="#000" stroke-width="0.3" letter-spacing="-0.1" text-anchor="end" x="754.5" y="1149.5">4000</text>
<line x1="755" y1="1197.4" x2="770" y2="1197.4" stroke="#000" stroke-width="5.2"/>
<text font-size="21.2" stroke="#000" stroke-width="0.3" letter-spacing="-0.1" text-anchor="end" x="754.5" y="1206.9">2000</text>
<line x1="755" y1="1254.7" x2="770" y2="1254.7" stroke="#000" stroke-width="5.2"/>
<text font-size="21.2" stroke="#000" stroke-width="0.3" letter-spacing="-0.1" text-anchor="end" x="754.5" y="1264.2">0</text>
<line x1="824.4" y1="1254.7" x2="824.4" y2="1268.6" stroke="#000" stroke-width="5.2"/>
<text font-size="21.3" stroke="#000" stroke-width="0.3" letter-spacing="-0.35" text-anchor="end" transform="translate(837.4 1285) rotate(-45)">Bispecific CAR</text>
<line x1="907.6" y1="1254.7" x2="907.6" y2="1268.6" stroke="#000" stroke-width="5.2"/>
<text font-size="21.3" stroke="#000" stroke-width="0.3" letter-spacing="-0.35" text-anchor="end" transform="translate(920.6 1285) rotate(-45)">Bi-ChTCR</text>
<text font-size="21.3" stroke="#000" stroke-width="0.3" text-anchor="middle" textLength="218.5" lengthAdjust="spacing" transform="translate(694.5 1134) rotate(-90)">Geometric Mean rBCMA</text>
<line x1="824.8" y1="1117.5" x2="899.4" y2="1080.4" stroke="#000" stroke-width="1.9"/>
<line x1="824.8" y1="1128" x2="916.6" y2="1074.4" stroke="#000" stroke-width="1.9"/>
<circle cx="824.8" cy="1117.5" r="4.6" fill="#000"/>
<circle cx="824.8" cy="1128" r="4.6" fill="#000"/>
<circle cx="899.4" cy="1080.4" r="4.6" fill="#000"/>
<circle cx="916.6" cy="1074.4" r="4.6" fill="#000"/>
</g>
<g class="p">
<text font-size="32" stroke="#1a1a1a" stroke-width="0.3" font-weight="bold" fill="#1a1a1a" x="986" y="967.5">g.</text>
<rect x="1143" y="1200.4" width="52.6" height="54.3" fill="#A08EBD" stroke="#000" stroke-width="2"/>
<rect x="1226.4" y="1096.9" width="52.5" height="157.8" fill="#C684AE" stroke="#000" stroke-width="2"/>
<line x1="1114.3" y1="1021.9" x2="1114.3" y2="1257.3" stroke="#000" stroke-width="5.2"/>
<line x1="1099.3" y1="1254.7" x2="1307.8" y2="1254.7" stroke="#000" stroke-width="5.2"/>
<line x1="1099.3" y1="1024.9" x2="1114.3" y2="1024.9" stroke="#000" stroke-width="5.2"/>
<text font-size="21.2" stroke="#000" stroke-width="0.3" letter-spacing="-0.1" text-anchor="end" x="1098.8" y="1034.4">15000</text>
<line x1="1099.3" y1="1101.4" x2="1114.3" y2="1101.4" stroke="#000" stroke-width="5.2"/>
<text font-size="21.2" stroke="#000" stroke-width="0.3" letter-spacing="-0.1" text-anchor="end" x="1098.8" y="1110.9">10000</text>
<line x1="1099.3" y1="1177.9" x2="1114.3" y2="1177.9" stroke="#000" stroke-width="5.2"/>
<text font-size="21.2" stroke="#000" stroke-width="0.3" letter-spacing="-0.1" text-anchor="end" x="1098.8" y="1187.4">5000</text>
<line x1="1099.3" y1="1254.7" x2="1114.3" y2="1254.7" stroke="#000" stroke-width="5.2"/>
<text font-size="21.2" stroke="#000" stroke-width="0.3" letter-spacing="-0.1" text-anchor="end" x="1098.8" y="1264.2">0</text>
<line x1="1169" y1="1254.7" x2="1169" y2="1268.6" stroke="#000" stroke-width="5.2"/>
<text font-size="21.3" stroke="#000" stroke-width="0.3" letter-spacing="-0.35" text-anchor="end" transform="translate(1182 1285) rotate(-45)">Bispecific CAR</text>
<line x1="1252.3" y1="1254.7" x2="1252.3" y2="1268.6" stroke="#000" stroke-width="5.2"/>
<text font-size="21.3" stroke="#000" stroke-width="0.3" letter-spacing="-0.35" text-anchor="end" transform="translate(1265.3 1285) rotate(-45)">Bi-ChTCR</text>
<text font-size="21.3" stroke="#000" stroke-width="0.3" text-anchor="middle" textLength="235" lengthAdjust="spacing" transform="translate(1032.5 1134) rotate(-90)">Geometric Mean rSLAMF7</text>
<line x1="1169" y1="1198.9" x2="1252.3" y2="1084.1" stroke="#000" stroke-width="1.9"/>
<line x1="1169" y1="1198.9" x2="1252.3" y2="1106.3" stroke="#000" stroke-width="1.9"/>
<circle cx="1169" cy="1198.9" r="4.6" fill="#000"/>
<circle cx="1252.3" cy="1084.1" r="4.6" fill="#000"/>
<circle cx="1252.3" cy="1106.3" r="4.6" fill="#000"/>
</g>
<g id="panel-h">
<text font-size="32" stroke="#1a1a1a" stroke-width="0.3" font-weight="bold" fill="#1a1a1a" x="4" y="1470.5">h.</text>
<text font-size="24.6" stroke="#E1659C" stroke-width="0.3" text-anchor="middle" textLength="115.5" lengthAdjust="spacing" fill="#E1659C" x="364.5" y="1477.8">Bi-ChTCR</text>
<line x1="138" y1="1493.6" x2="588.8" y2="1493.6" stroke="#111" stroke-width="4.3"/>
<text font-size="20.6" stroke="#111" stroke-width="0.3" textLength="51.5" lengthAdjust="spacing" fill="#111" x="132.4" y="1519.2">0 min</text>
<text font-size="20.6" stroke="#111" stroke-width="0.3" text-anchor="middle" textLength="51.5" lengthAdjust="spacing" fill="#111" x="295.4" y="1519.2">2 min</text>
<text font-size="20.6" stroke="#111" stroke-width="0.3" text-anchor="middle" textLength="51.5" lengthAdjust="spacing" fill="#111" x="507.6" y="1519.2">5 min</text>
<line x1="214.7" y1="1527" x2="376.5" y2="1527" stroke="#111" stroke-width="4.3"/>
<line x1="427" y1="1527" x2="588.8" y2="1527" stroke="#111" stroke-width="4.3"/>
<text font-size="23" stroke="#1B8E5A" stroke-width="0.3" text-anchor="middle" fill="#1B8E5A" x="229.2" y="1554.7">1</text>
<text font-size="23" stroke="#F0892B" stroke-width="0.3" text-anchor="middle" fill="#F0892B" x="272.7" y="1554.7">2</text>
<text font-size="23" stroke="#E58CB7" stroke-width="0.3" text-anchor="middle" fill="#E58CB7" x="316.2" y="1554.7">3</text>
<text font-size="23" stroke="#6A5FA8" stroke-width="0.3" text-anchor="middle" fill="#6A5FA8" x="359.7" y="1554.7">4</text>
<text font-size="23" stroke="#1B8E5A" stroke-width="0.3" text-anchor="middle" fill="#1B8E5A" x="442.2" y="1554.7">1</text>
<text font-size="23" stroke="#F0892B" stroke-width="0.3" text-anchor="middle" fill="#F0892B" x="485.7" y="1554.7">2</text>
<text font-size="23" stroke="#E58CB7" stroke-width="0.3" text-anchor="middle" fill="#E58CB7" x="529.2" y="1554.7">3</text>
<text font-size="23" stroke="#6A5FA8" stroke-width="0.3" text-anchor="middle" fill="#6A5FA8" x="572.7" y="1554.7">4</text>
<text font-size="24.6" stroke="#A59CCB" stroke-width="0.3" text-anchor="middle" textLength="166" lengthAdjust="spacing" fill="#A59CCB" x="902.6" y="1477.8">Bispecific CAR</text>
<line x1="650.3" y1="1493.6" x2="1101.1" y2="1493.6" stroke="#111" stroke-width="4.3"/>
<text font-size="20.6" stroke="#111" stroke-width="0.3" textLength="51.5" lengthAdjust="spacing" fill="#111" x="644.7" y="1519.2">0 min</text>
<text font-size="20.6" stroke="#111" stroke-width="0.3" text-anchor="middle" textLength="51.5" lengthAdjust="spacing" fill="#111" x="807.7" y="1519.2">2 min</text>
<text font-size="20.6" stroke="#111" stroke-width="0.3" text-anchor="middle" textLength="51.5" lengthAdjust="spacing" fill="#111" x="1019.9" y="1519.2">5 min</text>
<line x1="727" y1="1527" x2="888.8" y2="1527" stroke="#111" stroke-width="4.3"/>
<line x1="939.3" y1="1527" x2="1101.1" y2="1527" stroke="#111" stroke-width="4.3"/>
<text font-size="23" stroke="#1B8E5A" stroke-width="0.3" text-anchor="middle" fill="#1B8E5A" x="741.5" y="1554.7">1</text>
<text font-size="23" stroke="#F0892B" stroke-width="0.3" text-anchor="middle" fill="#F0892B" x="785" y="1554.7">2</text>
<text font-size="23" stroke="#E58CB7" stroke-width="0.3" text-anchor="middle" fill="#E58CB7" x="828.5" y="1554.7">3</text>
<text font-size="23" stroke="#6A5FA8" stroke-width="0.3" text-anchor="middle" fill="#6A5FA8" x="872" y="1554.7">4</text>
<text font-size="23" stroke="#1B8E5A" stroke-width="0.3" text-anchor="middle" fill="#1B8E5A" x="954.5" y="1554.7">1</text>
<text font-size="23" stroke="#F0892B" stroke-width="0.3" text-anchor="middle" fill="#F0892B" x="998" y="1554.7">2</text>
<text font-size="23" stroke="#E58CB7" stroke-width="0.3" text-anchor="middle" fill="#E58CB7" x="1041.5" y="1554.7">3</text>
<text font-size="23" stroke="#6A5FA8" stroke-width="0.3" text-anchor="middle" fill="#6A5FA8" x="1085" y="1554.7">4</text>
<text font-size="22.6" stroke="#111" stroke-width="0.3" textLength="114" lengthAdjust="spacing" fill="#111" x="9.5" y="1519.2">Stim. (min):</text>
<clipPath id="c1"><rect x="128.6" y="1561.8" width="483" height="51"/></clipPath>
<rect x="128.6" y="1561.8" width="483" height="51" fill="#C4C5C7"/>
<g clip-path="url(#c1)">
<rect x="214" y="1576.2" width="26" height="5" rx="2.5" fill="#000" fill-opacity="0.3" filter="url(#b1)" transform="rotate(0 227 1578.7)"/>
<rect x="255" y="1577.1" width="32" height="8.4" rx="4.2" fill="#000" fill-opacity="0.97" filter="url(#b1)" transform="rotate(3 271 1581.3)"/>
<rect x="300" y="1579.8" width="30" height="8.4" rx="4.2" fill="#000" fill-opacity="0.97" filter="url(#b1)" transform="rotate(1 315 1584)"/>
<rect x="344.5" y="1581.9" width="31.5" height="9" rx="4.5" fill="#000" fill-opacity="0.98" filter="url(#b1)" transform="rotate(1 360.25 1586.4)"/>
<rect x="429" y="1586.8" width="26" height="5" rx="2.5" fill="#000" fill-opacity="0.3" filter="url(#b1)" transform="rotate(0 442 1589.3)"/>
<rect x="470" y="1584.1" width="33" height="8.4" rx="4.2" fill="#000" fill-opacity="0.97" filter="url(#b1)" transform="rotate(-1 486.5 1588.3)"/>
<rect x="516.5" y="1582.5" width="30.5" height="8" rx="4" fill="#000" fill-opacity="0.97" filter="url(#b1)" transform="rotate(-3 531.75 1586.5)"/>
<rect x="560" y="1579.8" width="29" height="8" rx="4" fill="#000" fill-opacity="0.97" filter="url(#b1)" transform="rotate(-4 574.5 1583.8)"/>
<rect x="136" y="1574" width="30" height="8" rx="4" fill="#000" fill-opacity="0.04" filter="url(#b2)" transform="rotate(0 151 1578)"/>
<rect x="136" y="1599.5" width="30" height="5" rx="2.5" fill="#000" fill-opacity="0.05" filter="url(#b2)" transform="rotate(0 151 1602)"/>
<rect x="212" y="1599.5" width="30" height="5" rx="2.5" fill="#000" fill-opacity="0.08" filter="url(#b2)" transform="rotate(0 227 1602)"/>
<rect x="254" y="1599.5" width="34" height="5" rx="2.5" fill="#000" fill-opacity="0.07" filter="url(#b2)" transform="rotate(0 271 1602)"/>
<rect x="300" y="1599.5" width="32" height="5" rx="2.5" fill="#000" fill-opacity="0.05" filter="url(#b2)" transform="rotate(0 316 1602)"/>
<rect x="344" y="1599.5" width="32" height="5" rx="2.5" fill="#000" fill-opacity="0.04" filter="url(#b2)" transform="rotate(0 360 1602)"/>
<rect x="250" y="1588" width="40" height="10" rx="5" fill="#000" fill-opacity="0.06" filter="url(#b2)" transform="rotate(0 270 1593)"/>
<rect x="298" y="1590" width="36" height="10" rx="5" fill="#000" fill-opacity="0.06" filter="url(#b2)" transform="rotate(0 316 1595)"/>
<rect x="342" y="1592" width="38" height="10" rx="5" fill="#000" fill-opacity="0.06" filter="url(#b2)" transform="rotate(0 361 1597)"/>
<rect x="466" y="1593" width="40" height="10" rx="5" fill="#000" fill-opacity="0.05" filter="url(#b2)" transform="rotate(0 486 1598)"/>
<rect x="514" y="1591" width="36" height="10" rx="5" fill="#000" fill-opacity="0.05" filter="url(#b2)" transform="rotate(0 532 1596)"/>
<rect x="556" y="1589" width="36" height="10" rx="5" fill="#000" fill-opacity="0.05" filter="url(#b2)" transform="rotate(0 574 1594)"/>
<rect x="426" y="1565" width="32" height="14" rx="7" fill="#000" fill-opacity="0.04" filter="url(#b2)" transform="rotate(0 442 1572)"/>
<rect x="470" y="1566" width="30" height="12" rx="6" fill="#000" fill-opacity="0.03" filter="url(#b2)" transform="rotate(0 485 1572)"/>
</g>
<rect x="128.6" y="1561.8" width="483" height="51" fill="none" stroke="#111" stroke-width="1.3"/>
<clipPath id="c2"><rect x="128.6" y="1665.5" width="483" height="42.8"/></clipPath>
<rect x="128.6" y="1665.5" width="483" height="42.8" fill="#C4C5C7"/>
<g clip-path="url(#c2)">
<rect x="150" y="1680.8" width="24" height="7" rx="3.5" fill="#000" fill-opacity="0.97" filter="url(#b1)" transform="rotate(0 162 1684.3)"/>
<rect x="225" y="1681" width="28" height="5.6" rx="2.8" fill="#000" fill-opacity="0.93" filter="url(#b1)" transform="rotate(1 239 1683.8)"/>
<rect x="267" y="1681.8" width="26.5" height="6.4" rx="3.2" fill="#000" fill-opacity="0.95" filter="url(#b1)" transform="rotate(2 280.25 1685)"/>
<rect x="307.5" y="1682.7" width="27.5" height="6.6" rx="3.3" fill="#000" fill-opacity="0.95" filter="url(#b1)" transform="rotate(1 321.25 1686)"/>
<rect x="350" y="1683.6" width="27.5" height="6.8" rx="3.4" fill="#000" fill-opacity="0.96" filter="url(#b1)" transform="rotate(1 363.75 1687)"/>
<rect x="433.5" y="1683.5" width="27.5" height="6.6" rx="3.3" fill="#000" fill-opacity="0.95" filter="url(#b1)" transform="rotate(-1 447.25 1686.8)"/>
<rect x="476" y="1682.7" width="28" height="6.2" rx="3.1" fill="#000" fill-opacity="0.95" filter="url(#b1)" transform="rotate(-2 490 1685.8)"/>
<rect x="519.5" y="1681.5" width="27" height="5.8" rx="2.9" fill="#000" fill-opacity="0.93" filter="url(#b1)" transform="rotate(-4 533 1684.4)"/>
<rect x="561" y="1677.8" width="28" height="5.2" rx="2.6" fill="#000" fill-opacity="0.88" filter="url(#b1)" transform="rotate(-6 575 1680.4)"/>
<rect x="146" y="1687" width="32" height="14" rx="7" fill="#000" fill-opacity="0.05" filter="url(#b2)" transform="rotate(0 162 1694)"/>
<rect x="222" y="1687" width="34" height="14" rx="7" fill="#000" fill-opacity="0.04" filter="url(#b2)" transform="rotate(0 239 1694)"/>
<rect x="264" y="1689" width="32" height="14" rx="7" fill="#000" fill-opacity="0.05" filter="url(#b2)" transform="rotate(0 280 1696)"/>
<rect x="304" y="1690" width="34" height="14" rx="7" fill="#000" fill-opacity="0.05" filter="url(#b2)" transform="rotate(0 321 1697)"/>
<rect x="346" y="1690" width="34" height="14" rx="7" fill="#000" fill-opacity="0.05" filter="url(#b2)" transform="rotate(0 363 1697)"/>
<rect x="430" y="1690" width="34" height="14" rx="7" fill="#000" fill-opacity="0.04" filter="url(#b2)" transform="rotate(0 447 1697)"/>
<rect x="472" y="1689" width="34" height="14" rx="7" fill="#000" fill-opacity="0.04" filter="url(#b2)" transform="rotate(0 489 1696)"/>
<rect x="516" y="1688" width="34" height="14" rx="7" fill="#000" fill-opacity="0.04" filter="url(#b2)" transform="rotate(0 533 1695)"/>
<rect x="558" y="1685" width="34" height="14" rx="7" fill="#000" fill-opacity="0.05" filter="url(#b2)" transform="rotate(0 575 1692)"/>
</g>
<rect x="128.6" y="1665.5" width="483" height="42.8" fill="none" stroke="#111" stroke-width="1.3"/>
<clipPath id="c3"><rect x="640.2" y="1563" width="483" height="50.8"/></clipPath>
<rect x="640.2" y="1563" width="483" height="50.8" fill="#C4C5C7"/>
<g clip-path="url(#c3)">
<rect x="731" y="1597.25" width="28.5" height="4.5" rx="2.25" fill="#000" fill-opacity="0.3" filter="url(#b1)" transform="rotate(0 745.25 1599.5)"/>
<rect x="648" y="1567" width="32" height="18" rx="9" fill="#000" fill-opacity="0.07" filter="url(#b2)" transform="rotate(0 664 1576)"/>
<rect x="648" y="1600" width="32" height="6" rx="3" fill="#000" fill-opacity="0.08" filter="url(#b2)" transform="rotate(0 664 1603)"/>
<rect x="730" y="1566" width="32" height="16" rx="8" fill="#000" fill-opacity="0.08" filter="url(#b2)" transform="rotate(0 746 1574)"/>
<rect x="772" y="1566" width="34" height="16" rx="8" fill="#000" fill-opacity="0.07" filter="url(#b2)" transform="rotate(0 789 1574)"/>
<rect x="814" y="1568" width="32" height="16" rx="8" fill="#000" fill-opacity="0.05" filter="url(#b2)" transform="rotate(0 830 1576)"/>
<rect x="858" y="1570" width="34" height="16" rx="8" fill="#000" fill-opacity="0.05" filter="url(#b2)" transform="rotate(0 875 1578)"/>
<rect x="774" y="1595" width="30" height="6" rx="3" fill="#000" fill-opacity="0.08" filter="url(#b2)" transform="rotate(0 789 1598)"/>
<rect x="816" y="1593" width="30" height="6" rx="3" fill="#000" fill-opacity="0.07" filter="url(#b2)" transform="rotate(0 831 1596)"/>
<rect x="860" y="1591" width="30" height="6" rx="3" fill="#000" fill-opacity="0.07" filter="url(#b2)" transform="rotate(0 875 1594)"/>
<rect x="940" y="1590" width="32" height="6" rx="3" fill="#000" fill-opacity="0.08" filter="url(#b2)" transform="rotate(0 956 1593)"/>
<rect x="982" y="1591" width="32" height="6" rx="3" fill="#000" fill-opacity="0.06" filter="url(#b2)" transform="rotate(0 998 1594)"/>
<rect x="1026" y="1589" width="32" height="6" rx="3" fill="#000" fill-opacity="0.08" filter="url(#b2)" transform="rotate(0 1042 1592)"/>
<rect x="1070" y="1588" width="30" height="6" rx="3" fill="#000" fill-opacity="0.08" filter="url(#b2)" transform="rotate(0 1085 1591)"/>
<rect x="860" y="1608.5" width="30" height="5" rx="2.5" fill="#000" fill-opacity="0.1" filter="url(#b2)" transform="rotate(0 875 1611)"/>
<rect x="940" y="1608.5" width="32" height="5" rx="2.5" fill="#000" fill-opacity="0.1" filter="url(#b2)" transform="rotate(0 956 1611)"/>
<rect x="982" y="1608.5" width="32" height="5" rx="2.5" fill="#000" fill-opacity="0.1" filter="url(#b2)" transform="rotate(0 998 1611)"/>
<rect x="1026" y="1608.5" width="32" height="5" rx="2.5" fill="#000" fill-opacity="0.1" filter="url(#b2)" transform="rotate(0 1042 1611)"/>
<rect x="1070" y="1608.5" width="30" height="5" rx="2.5" fill="#000" fill-opacity="0.1" filter="url(#b2)" transform="rotate(0 1085 1611)"/>
<rect x="1068" y="1570" width="32" height="20" rx="10" fill="#000" fill-opacity="0.05" filter="url(#b2)" transform="rotate(0 1084 1580)"/>
</g>
<rect x="640.2" y="1563" width="483" height="50.8" fill="none" stroke="#111" stroke-width="1.3"/>
<clipPath id="c4"><rect x="640.5" y="1665.5" width="483.4" height="42.8"/></clipPath>
<rect x="640.5" y="1665.5" width="483.4" height="42.8" fill="#C4C5C7"/>
<g clip-path="url(#c4)">
<rect x="661" y="1686.8" width="29.5" height="6.4" rx="3.2" fill="#000" fill-opacity="0.93" filter="url(#b1)" transform="rotate(1 675.75 1690)"/>
<rect x="746" y="1690.4" width="28.5" height="7.2" rx="3.6" fill="#000" fill-opacity="0.97" filter="url(#b1)" transform="rotate(0.5 760.25 1694)"/>
<rect x="788.5" y="1689.8" width="28" height="6.4" rx="3.2" fill="#000" fill-opacity="0.93" filter="url(#b1)" transform="rotate(-1 802.5 1693)"/>
<rect x="829.5" y="1685.6" width="29" height="6.4" rx="3.2" fill="#000" fill-opacity="0.94" filter="url(#b1)" transform="rotate(-2 844 1688.8)"/>
<rect x="871.5" y="1682" width="29" height="6.8" rx="3.4" fill="#000" fill-opacity="0.96" filter="url(#b1)" transform="rotate(-1.5 886 1685.4)"/>
<rect x="957" y="1676.3" width="32" height="7" rx="3.5" fill="#000" fill-opacity="0.85" filter="url(#b4)" transform="rotate(-1.5 973 1679.8)"/>
<rect x="1001.5" y="1674" width="31" height="7" rx="3.5" fill="#000" fill-opacity="0.8" filter="url(#b4)" transform="rotate(-1 1017 1677.5)"/>
<rect x="1044" y="1673.1" width="31.5" height="7.4" rx="3.7" fill="#000" fill-opacity="0.85" filter="url(#b4)" transform="rotate(-0.5 1059.75 1676.8)"/>
<rect x="1086" y="1672.4" width="29.5" height="6.4" rx="3.2" fill="#000" fill-opacity="0.55" filter="url(#b4)" transform="rotate(-1 1100.75 1675.6)"/>
<rect x="872" y="1690" width="30" height="14" rx="7" fill="#000" fill-opacity="0.05" filter="url(#b2)" transform="rotate(0 887 1697)"/>
<rect x="956" y="1684" width="34" height="16" rx="8" fill="#000" fill-opacity="0.05" filter="url(#b2)" transform="rotate(0 973 1692)"/>
<rect x="1000" y="1682" width="34" height="16" rx="8" fill="#000" fill-opacity="0.04" filter="url(#b2)" transform="rotate(0 1017 1690)"/>
<rect x="1042" y="1682" width="34" height="16" rx="8" fill="#000" fill-opacity="0.05" filter="url(#b2)" transform="rotate(0 1059 1690)"/>
<rect x="1084" y="1682" width="34" height="16" rx="8" fill="#000" fill-opacity="0.05" filter="url(#b2)" transform="rotate(0 1101 1690)"/>
</g>
<rect x="640.5" y="1665.5" width="483.4" height="42.8" fill="none" stroke="#111" stroke-width="1.3"/>
<text font-size="20.2" stroke="#111" stroke-width="0.3" textLength="66" lengthAdjust="spacing" fill="#111" x="56" y="1604.5">67 kDa</text>
<line x1="120" y1="1601" x2="128" y2="1601" stroke="#111" stroke-width="3.4"/>
<text font-size="20.2" stroke="#111" stroke-width="0.3" textLength="66" lengthAdjust="spacing" fill="#111" x="56.3" y="1705">67 kDa</text>
<line x1="120" y1="1701.4" x2="128" y2="1701.4" stroke="#111" stroke-width="3.4"/>
<text font-size="20.2" stroke="#111" stroke-width="0.3" textLength="66" lengthAdjust="spacing" fill="#111" x="1133.6" y="1616.4">67 kDa</text>
<line x1="1123.5" y1="1612.4" x2="1130.5" y2="1612.4" stroke="#111" stroke-width="3.4"/>
<text font-size="20.2" stroke="#111" stroke-width="0.3" textLength="66" lengthAdjust="spacing" fill="#111" x="1133.6" y="1708.3">67 kDa</text>
<line x1="1124" y1="1704.4" x2="1131" y2="1704.4" stroke="#111" stroke-width="3.4"/>
<text font-size="30" stroke="#000" stroke-width="0.3" text-anchor="middle" textLength="182" lengthAdjust="spacing" x="626" y="1645.6">pZap70 Y319</text>
<text font-size="30" stroke="#000" stroke-width="0.3" text-anchor="middle" textLength="112" lengthAdjust="spacing" x="625.5" y="1735.6">T.Zap70</text>
<text font-size="24.5" stroke="#1B8E5A" stroke-width="0.3" fill="#1B8E5A" x="1216.5" y="1556.4">1:</text>
<text font-size="24.5" stroke="#000" stroke-width="0.3" textLength="132" lengthAdjust="spacing" x="1243.2" y="1556.4">0.5M BCMA</text>
<text font-size="24.5" stroke="#F0892B" stroke-width="0.3" fill="#F0892B" x="1216.5" y="1607">2:</text>
<text font-size="24.5" stroke="#000" stroke-width="0.3" textLength="155.5" lengthAdjust="spacing" x="1243.2" y="1607">0.5M SLAMF7</text>
<text font-size="24.5" stroke="#E58CB7" stroke-width="0.3" fill="#E58CB7" x="1216.5" y="1657.6">3:</text>
<text font-size="24.5" stroke="#000" stroke-width="0.3" textLength="339.5" lengthAdjust="spacing" x="1243.2" y="1657.6">0.25M BCMA + 0.25M SLAMF7</text>
<text font-size="24.5" stroke="#6A5FA8" stroke-width="0.3" fill="#6A5FA8" x="1216.5" y="1708.6">4:</text>
<text font-size="24.5" stroke="#000" stroke-width="0.3" textLength="312.7" lengthAdjust="spacing" x="1243.2" y="1708.6">0.5M BCMA + 0.5M SLAMF7</text>
</g>
<g class="p">
<text font-size="32" stroke="#1a1a1a" stroke-width="0.3" font-weight="bold" fill="#1a1a1a" x="4.5" y="1823">i.</text>
<text font-size="24.6" stroke="#E1659C" stroke-width="0.2" text-anchor="middle" textLength="115.5" lengthAdjust="spacing" fill="#E1659C" x="328.3" y="1843.3">Bi-ChTCR</text>
<rect x="295.9" y="2049.9" width="22.1" height="19.5" fill="#088B52"/>
<rect x="321.77" y="1997.4" width="22.1" height="72" fill="#F19135"/>
<rect x="347.64" y="1988" width="22.1" height="81.4" fill="#E08AB6"/>
<rect x="373.51" y="1976.4" width="22.1" height="93" fill="#6C5A9E"/>
<rect x="442.9" y="2048" width="22.1" height="21.4" fill="#088B52"/>
<rect x="468.77" y="1961" width="22.1" height="108.4" fill="#F19135"/>
<rect x="494.64" y="1935.9" width="22.1" height="133.5" fill="#E08AB6"/>
<rect x="520.51" y="1925" width="22.1" height="144.4" fill="#6C5A9E"/>
<line x1="117" y1="1846.3" x2="117" y2="2072" stroke="#000" stroke-width="5.2"/>
<line x1="102" y1="2069.4" x2="550.5" y2="2069.4" stroke="#000" stroke-width="5.2"/>
<circle cx="550.5" cy="2069.4" r="2.9" fill="#000"/>
<line x1="102" y1="1848.9" x2="117" y2="1848.9" stroke="#000" stroke-width="5.2"/>
<text font-size="16.3" stroke="#000" stroke-width="0.3" letter-spacing="-0.1" text-anchor="end" x="99.5" y="1854.5">2.0</text>
<line x1="102" y1="1904" x2="117" y2="1904" stroke="#000" stroke-width="5.2"/>
<text font-size="16.3" stroke="#000" stroke-width="0.3" letter-spacing="-0.1" text-anchor="end" x="99.5" y="1909.6">1.5</text>
<line x1="102" y1="1959" x2="117" y2="1959" stroke="#000" stroke-width="5.2"/>
<text font-size="16.3" stroke="#000" stroke-width="0.3" letter-spacing="-0.1" text-anchor="end" x="99.5" y="1964.6">1.0</text>
<line x1="102" y1="2014.3" x2="117" y2="2014.3" stroke="#000" stroke-width="5.2"/>
<text font-size="16.3" stroke="#000" stroke-width="0.3" letter-spacing="-0.1" text-anchor="end" x="99.5" y="2019.9">0.5</text>
<line x1="102" y1="2069.4" x2="117" y2="2069.4" stroke="#000" stroke-width="5.2"/>
<text font-size="16.3" stroke="#000" stroke-width="0.3" letter-spacing="-0.1" text-anchor="end" x="99.5" y="2075">0.0</text>
<line x1="184.9" y1="2069.4" x2="184.9" y2="2083.3" stroke="#000" stroke-width="5.2"/>
<text font-size="16.3" stroke="#000" stroke-width="0.3" text-anchor="middle" x="184.9" y="2100.5">0</text>
<line x1="331.9" y1="2069.4" x2="331.9" y2="2083.3" stroke="#000" stroke-width="5.2"/>
<text font-size="16.3" stroke="#000" stroke-width="0.3" text-anchor="middle" x="331.9" y="2100.5">2</text>
<line x1="479.3" y1="2069.4" x2="479.3" y2="2083.3" stroke="#000" stroke-width="5.2"/>
<text font-size="16.3" stroke="#000" stroke-width="0.3" text-anchor="middle" x="479.3" y="2100.5">5</text>
<text font-size="24" stroke="#000" stroke-width="0.3" text-anchor="middle" textLength="158.5" lengthAdjust="spacing" x="331.9" y="2126.4">Time (minutes)</text>
<text font-size="20.5" stroke="#000" stroke-width="0.3" text-anchor="middle" textLength="138.5" lengthAdjust="spacing" transform="translate(40 1960.6) rotate(-90)">FC vs Standard</text>
<text font-size="20.5" stroke="#000" stroke-width="0.3" text-anchor="middle" textLength="117" lengthAdjust="spacing" transform="translate(66 1960.6) rotate(-90)">pZap70 Y319</text>
<circle cx="128.6" cy="2067.9" r="4.6" fill="#000"/>
<circle cx="138.4" cy="2067" r="4.6" fill="#000"/>
<circle cx="302.6" cy="2053.3" r="4.6" fill="#000"/>
<circle cx="311.3" cy="2051" r="4.6" fill="#000"/>
<circle cx="332.6" cy="1976" r="4.6" fill="#000"/>
<circle cx="332.6" cy="2024.4" r="4.6" fill="#000"/>
<circle cx="358.5" cy="1970.4" r="4.6" fill="#000"/>
<circle cx="358.5" cy="2010.9" r="4.6" fill="#000"/>
<circle cx="384.4" cy="1963.6" r="4.6" fill="#000"/>
<circle cx="384.4" cy="1994.4" r="4.6" fill="#000"/>
<circle cx="449.3" cy="2051.4" r="4.6" fill="#000"/>
<circle cx="457.9" cy="2049" r="4.6" fill="#000"/>
<circle cx="479.6" cy="1918.3" r="4.6" fill="#000"/>
<circle cx="479.6" cy="2009.4" r="4.6" fill="#000"/>
<circle cx="505.5" cy="1900.6" r="4.6" fill="#000"/>
<circle cx="505.5" cy="1975.6" r="4.6" fill="#000"/>
<circle cx="531.4" cy="1883.4" r="4.6" fill="#000"/>
<circle cx="531.4" cy="1971.5" r="4.6" fill="#000"/>
</g>
<g class="p">
<text font-size="24.6" stroke="#A59CCB" stroke-width="0.2" text-anchor="middle" textLength="166" lengthAdjust="spacing" fill="#A59CCB" x="892.3" y="1843.3">Bispecific CAR</text>
<rect x="856" y="2058.9" width="22.6" height="10.5" fill="#088B52"/>
<line x1="677.3" y1="1846.3" x2="677.3" y2="2072" stroke="#000" stroke-width="5.2"/>
<line x1="662.3" y1="2069.4" x2="1110.8" y2="2069.4" stroke="#000" stroke-width="5.2"/>
<circle cx="1110.8" cy="2069.4" r="2.9" fill="#000"/>
<line x1="662.3" y1="1848.9" x2="677.3" y2="1848.9" stroke="#000" stroke-width="5.2"/>
<text font-size="16.3" stroke="#000" stroke-width="0.3" letter-spacing="-0.1" text-anchor="end" x="659.8" y="1854.5">2.0</text>
<line x1="662.3" y1="1904" x2="677.3" y2="1904" stroke="#000" stroke-width="5.2"/>
<text font-size="16.3" stroke="#000" stroke-width="0.3" letter-spacing="-0.1" text-anchor="end" x="659.8" y="1909.6">1.5</text>
<line x1="662.3" y1="1959" x2="677.3" y2="1959" stroke="#000" stroke-width="5.2"/>
<text font-size="16.3" stroke="#000" stroke-width="0.3" letter-spacing="-0.1" text-anchor="end" x="659.8" y="1964.6">1.0</text>
<line x1="662.3" y1="2014.3" x2="677.3" y2="2014.3" stroke="#000" stroke-width="5.2"/>
<text font-size="16.3" stroke="#000" stroke-width="0.3" letter-spacing="-0.1" text-anchor="end" x="659.8" y="2019.9">0.5</text>
<line x1="662.3" y1="2069.4" x2="677.3" y2="2069.4" stroke="#000" stroke-width="5.2"/>
<text font-size="16.3" stroke="#000" stroke-width="0.3" letter-spacing="-0.1" text-anchor="end" x="659.8" y="2075">0.0</text>
<line x1="745.2" y1="2069.4" x2="745.2" y2="2083.3" stroke="#000" stroke-width="5.2"/>
<text font-size="16.3" stroke="#000" stroke-width="0.3" text-anchor="middle" x="745.2" y="2100.5">0</text>
<line x1="892.2" y1="2069.4" x2="892.2" y2="2083.3" stroke="#000" stroke-width="5.2"/>
<text font-size="16.3" stroke="#000" stroke-width="0.3" text-anchor="middle" x="892.2" y="2100.5">2</text>
<line x1="1039.6" y1="2069.4" x2="1039.6" y2="2083.3" stroke="#000" stroke-width="5.2"/>
<text font-size="16.3" stroke="#000" stroke-width="0.3" text-anchor="middle" x="1039.6" y="2100.5">5</text>
<text font-size="24" stroke="#000" stroke-width="0.3" text-anchor="middle" textLength="158.5" lengthAdjust="spacing" x="892.2" y="2126.4">Time (minutes)</text>
<text font-size="20.5" stroke="#000" stroke-width="0.3" text-anchor="middle" textLength="138.5" lengthAdjust="spacing" transform="translate(600.3 1960.6) rotate(-90)">FC vs Standard</text>
<text font-size="20.5" stroke="#000" stroke-width="0.3" text-anchor="middle" textLength="117" lengthAdjust="spacing" transform="translate(626.3 1960.6) rotate(-90)">pZap70 Y319</text>
<circle cx="689.3" cy="2067.5" r="4.6" fill="#000"/>
<circle cx="698.6" cy="2067" r="4.6" fill="#000"/>
<circle cx="863.3" cy="2061" r="4.6" fill="#000"/>
<circle cx="871.5" cy="2061" r="4.6" fill="#000"/>
<circle cx="888.8" cy="2068" r="4.6" fill="#000"/>
<circle cx="897.4" cy="2068" r="4.6" fill="#000"/>
<circle cx="914.3" cy="2068" r="4.6" fill="#000"/>
<circle cx="922.5" cy="2068" r="4.6" fill="#000"/>
<circle cx="940.5" cy="2068" r="4.6" fill="#000"/>
<circle cx="949" cy="2068" r="4.6" fill="#000"/>
<circle cx="1009.5" cy="2068" r="4.6" fill="#000"/>
<circle cx="1018.1" cy="2068" r="4.6" fill="#000"/>
<circle cx="1035.8" cy="2068" r="4.6" fill="#000"/>
<circle cx="1044.4" cy="2068" r="4.6" fill="#000"/>
<circle cx="1061.6" cy="2068" r="4.6" fill="#000"/>
<circle cx="1070.3" cy="2068" r="4.6" fill="#000"/>
<circle cx="1087.5" cy="2068" r="4.6" fill="#000"/>
<circle cx="1096.1" cy="2068" r="4.6" fill="#000"/>
</g>
<rect x="1173.1" y="1836.5" width="36" height="35.6" fill="#000"/>
<text font-size="24.5" stroke="#000" stroke-width="0.3" textLength="86.3" lengthAdjust="spacing" x="1225.6" y="1861.3">No Stim</text>
<rect x="1173.1" y="1885.3" width="36" height="35.6" fill="#088B52"/>
<text font-size="24.5" stroke="#000" stroke-width="0.3" textLength="132" lengthAdjust="spacing" x="1225.6" y="1910.1">0.5M BCMA</text>
<rect x="1173.1" y="1936.3" width="36" height="35.6" fill="#F19135"/>
<text font-size="24.5" stroke="#000" stroke-width="0.3" textLength="155.5" lengthAdjust="spacing" x="1225.6" y="1961.1">0.5M SLAMF7</text>
<rect x="1173.1" y="1986.9" width="36" height="35.6" fill="#E08AB6"/>
<text font-size="24.5" stroke="#000" stroke-width="0.3" textLength="339.5" lengthAdjust="spacing" x="1225.6" y="2011.7">0.25M BCMA + 0.25M SLAMF7</text>
<rect x="1173.1" y="2037.5" width="36" height="35.6" fill="#6C5A9E"/>
<text font-size="24.5" stroke="#000" stroke-width="0.3" textLength="312.7" lengthAdjust="spacing" x="1225.6" y="2062.3">0.5M BCMA + 0.5M SLAMF7</text>
</svg>
</body></html>
